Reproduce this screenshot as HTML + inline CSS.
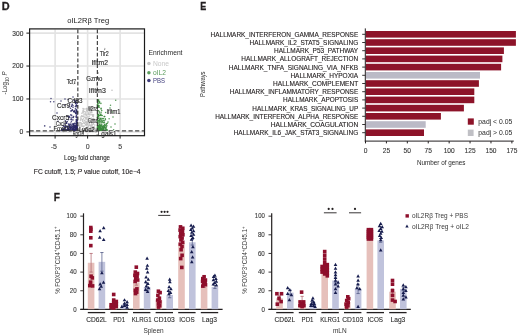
<!DOCTYPE html>
<html><head><meta charset="utf-8"><style>
html,body{margin:0;padding:0;background:#fff;}
body{width:520px;height:335px;overflow:hidden;}
svg{display:block;font-family:"Liberation Sans",sans-serif;will-change:transform;}
</style></head><body>
<svg width="520" height="335" viewBox="0 0 520 335">
<rect width="520" height="335" fill="#fff"/>
<text x="1.70" y="9.70" font-size="10.8" font-weight="bold" textLength="7.90" lengthAdjust="spacingAndGlyphs" fill="#231f20" stroke="#231f20" stroke-width="0.3">D</text>
<text x="88.20" y="23.30" font-size="8.0" text-anchor="middle" textLength="41.80" lengthAdjust="spacingAndGlyphs" fill="#222">oIL2Rβ Treg</text>
<line x1="55.10" y1="29.50" x2="55.10" y2="135.50" stroke="#e3e3e3" stroke-width="1.6"/>
<line x1="87.60" y1="29.50" x2="87.60" y2="135.50" stroke="#e3e3e3" stroke-width="1.6"/>
<line x1="120.10" y1="29.50" x2="120.10" y2="135.50" stroke="#e3e3e3" stroke-width="1.6"/>
<line x1="29.50" y1="131.90" x2="144.50" y2="131.90" stroke="#e3e3e3" stroke-width="1.6"/>
<line x1="29.50" y1="98.97" x2="144.50" y2="98.97" stroke="#e3e3e3" stroke-width="1.6"/>
<line x1="29.50" y1="66.04" x2="144.50" y2="66.04" stroke="#e3e3e3" stroke-width="1.6"/>
<line x1="29.50" y1="33.11" x2="144.50" y2="33.11" stroke="#e3e3e3" stroke-width="1.6"/>
<g>
<circle cx="79.9" cy="130.0" r="0.75" fill="#c3c3c3"/>
<circle cx="88.3" cy="131.5" r="0.75" fill="#c3c3c3"/>
<circle cx="87.2" cy="109.5" r="0.75" fill="#c3c3c3"/>
<circle cx="89.2" cy="121.3" r="0.75" fill="#c3c3c3"/>
<circle cx="86.0" cy="113.0" r="0.75" fill="#c3c3c3"/>
<circle cx="86.7" cy="122.2" r="0.75" fill="#c3c3c3"/>
<circle cx="99.1" cy="131.5" r="0.7" fill="#c3c3c3"/>
<circle cx="86.2" cy="115.7" r="0.75" fill="#c3c3c3"/>
<circle cx="90.3" cy="118.6" r="0.75" fill="#c3c3c3"/>
<circle cx="92.2" cy="131.0" r="0.75" fill="#c3c3c3"/>
<circle cx="85.9" cy="124.6" r="0.75" fill="#c3c3c3"/>
<circle cx="81.7" cy="130.1" r="0.75" fill="#c3c3c3"/>
<circle cx="91.6" cy="130.9" r="0.75" fill="#c3c3c3"/>
<circle cx="83.7" cy="109.1" r="0.75" fill="#c3c3c3"/>
<circle cx="92.8" cy="127.7" r="0.75" fill="#c3c3c3"/>
<circle cx="86.9" cy="131.0" r="0.75" fill="#c3c3c3"/>
<circle cx="91.6" cy="112.1" r="0.75" fill="#c3c3c3"/>
<circle cx="89.0" cy="131.4" r="0.75" fill="#c3c3c3"/>
<circle cx="70.4" cy="131.6" r="0.7" fill="#c3c3c3"/>
<circle cx="91.0" cy="111.8" r="0.75" fill="#c3c3c3"/>
<circle cx="91.8" cy="108.5" r="0.75" fill="#c3c3c3"/>
<circle cx="87.4" cy="119.9" r="0.75" fill="#c3c3c3"/>
<circle cx="90.7" cy="107.9" r="0.75" fill="#c3c3c3"/>
<circle cx="94.9" cy="129.1" r="0.75" fill="#c3c3c3"/>
<circle cx="83.4" cy="126.7" r="0.75" fill="#c3c3c3"/>
<circle cx="89.2" cy="123.5" r="0.75" fill="#c3c3c3"/>
<circle cx="78.8" cy="130.2" r="0.75" fill="#c3c3c3"/>
<circle cx="87.0" cy="127.2" r="0.75" fill="#c3c3c3"/>
<circle cx="81.8" cy="131.6" r="0.75" fill="#c3c3c3"/>
<circle cx="87.7" cy="119.9" r="0.75" fill="#c3c3c3"/>
<circle cx="91.4" cy="129.7" r="0.75" fill="#c3c3c3"/>
<circle cx="78.4" cy="129.5" r="0.75" fill="#c3c3c3"/>
<circle cx="85.6" cy="130.0" r="0.75" fill="#c3c3c3"/>
<circle cx="62.6" cy="131.0" r="0.7" fill="#c3c3c3"/>
<circle cx="83.1" cy="112.7" r="0.75" fill="#c3c3c3"/>
<circle cx="86.3" cy="124.8" r="0.75" fill="#c3c3c3"/>
<circle cx="112.2" cy="131.8" r="0.7" fill="#c3c3c3"/>
<circle cx="87.0" cy="111.1" r="0.75" fill="#c3c3c3"/>
<circle cx="86.0" cy="118.5" r="0.75" fill="#c3c3c3"/>
<circle cx="96.8" cy="131.4" r="0.75" fill="#c3c3c3"/>
<circle cx="78.8" cy="131.2" r="0.7" fill="#c3c3c3"/>
<circle cx="87.3" cy="110.1" r="0.75" fill="#c3c3c3"/>
<circle cx="88.2" cy="114.5" r="0.75" fill="#c3c3c3"/>
<circle cx="74.4" cy="131.0" r="0.7" fill="#c3c3c3"/>
<circle cx="94.0" cy="130.6" r="0.75" fill="#c3c3c3"/>
<circle cx="93.3" cy="131.4" r="0.75" fill="#c3c3c3"/>
<circle cx="87.6" cy="131.2" r="0.75" fill="#c3c3c3"/>
<circle cx="90.3" cy="108.6" r="0.75" fill="#c3c3c3"/>
<circle cx="79.6" cy="131.4" r="0.7" fill="#c3c3c3"/>
<circle cx="92.3" cy="124.7" r="0.75" fill="#c3c3c3"/>
<circle cx="80.4" cy="131.6" r="0.75" fill="#c3c3c3"/>
<circle cx="83.6" cy="131.4" r="0.75" fill="#c3c3c3"/>
<circle cx="87.6" cy="109.1" r="0.75" fill="#c3c3c3"/>
<circle cx="96.8" cy="130.5" r="0.75" fill="#c3c3c3"/>
<circle cx="83.6" cy="118.7" r="0.75" fill="#c3c3c3"/>
<circle cx="83.1" cy="116.4" r="0.75" fill="#c3c3c3"/>
<circle cx="85.8" cy="128.2" r="0.75" fill="#c3c3c3"/>
<circle cx="93.9" cy="122.2" r="0.75" fill="#c3c3c3"/>
<circle cx="86.5" cy="131.2" r="0.75" fill="#c3c3c3"/>
<circle cx="82.4" cy="129.2" r="0.75" fill="#c3c3c3"/>
<circle cx="86.5" cy="124.1" r="0.75" fill="#c3c3c3"/>
<circle cx="111.0" cy="131.3" r="0.7" fill="#c3c3c3"/>
<circle cx="76.4" cy="131.3" r="0.7" fill="#c3c3c3"/>
<circle cx="87.5" cy="123.0" r="0.75" fill="#c3c3c3"/>
<circle cx="63.0" cy="131.6" r="0.7" fill="#c3c3c3"/>
<circle cx="85.9" cy="122.1" r="0.75" fill="#c3c3c3"/>
<circle cx="63.6" cy="131.8" r="0.7" fill="#c3c3c3"/>
<circle cx="80.1" cy="128.2" r="0.75" fill="#c3c3c3"/>
<circle cx="89.2" cy="111.9" r="0.75" fill="#c3c3c3"/>
<circle cx="81.8" cy="115.9" r="0.75" fill="#c3c3c3"/>
<circle cx="87.1" cy="111.7" r="0.75" fill="#c3c3c3"/>
<circle cx="88.4" cy="126.7" r="0.75" fill="#c3c3c3"/>
<circle cx="91.7" cy="107.7" r="0.75" fill="#c3c3c3"/>
<circle cx="82.2" cy="130.7" r="0.75" fill="#c3c3c3"/>
<circle cx="92.5" cy="119.8" r="0.75" fill="#c3c3c3"/>
<circle cx="90.0" cy="114.7" r="0.75" fill="#c3c3c3"/>
<circle cx="91.8" cy="125.5" r="0.75" fill="#c3c3c3"/>
<circle cx="88.3" cy="113.7" r="0.75" fill="#c3c3c3"/>
<circle cx="92.0" cy="126.5" r="0.75" fill="#c3c3c3"/>
<circle cx="80.3" cy="122.6" r="0.75" fill="#c3c3c3"/>
<circle cx="88.1" cy="109.2" r="0.75" fill="#c3c3c3"/>
<circle cx="88.4" cy="119.5" r="0.75" fill="#c3c3c3"/>
<circle cx="89.4" cy="131.0" r="0.7" fill="#c3c3c3"/>
<circle cx="89.9" cy="130.6" r="0.75" fill="#c3c3c3"/>
<circle cx="70.2" cy="131.2" r="0.7" fill="#c3c3c3"/>
<circle cx="86.7" cy="131.6" r="0.75" fill="#c3c3c3"/>
<circle cx="94.3" cy="119.8" r="0.75" fill="#c3c3c3"/>
<circle cx="111.1" cy="131.8" r="0.7" fill="#c3c3c3"/>
<circle cx="89.6" cy="128.6" r="0.75" fill="#c3c3c3"/>
<circle cx="94.5" cy="129.4" r="0.75" fill="#c3c3c3"/>
<circle cx="72.4" cy="131.9" r="0.7" fill="#c3c3c3"/>
<circle cx="86.0" cy="117.5" r="0.75" fill="#c3c3c3"/>
<circle cx="79.3" cy="130.7" r="0.75" fill="#c3c3c3"/>
<circle cx="92.6" cy="127.9" r="0.75" fill="#c3c3c3"/>
<circle cx="87.6" cy="124.3" r="0.75" fill="#c3c3c3"/>
<circle cx="76.9" cy="131.4" r="0.7" fill="#c3c3c3"/>
<circle cx="90.3" cy="109.0" r="0.75" fill="#c3c3c3"/>
<circle cx="91.3" cy="119.8" r="0.75" fill="#c3c3c3"/>
<circle cx="104.9" cy="131.5" r="0.7" fill="#c3c3c3"/>
<circle cx="81.3" cy="123.7" r="0.75" fill="#c3c3c3"/>
<circle cx="84.6" cy="131.6" r="0.75" fill="#c3c3c3"/>
<circle cx="86.9" cy="131.6" r="0.75" fill="#c3c3c3"/>
<circle cx="87.5" cy="124.3" r="0.75" fill="#c3c3c3"/>
<circle cx="94.9" cy="130.5" r="0.75" fill="#c3c3c3"/>
<circle cx="80.9" cy="131.3" r="0.7" fill="#c3c3c3"/>
<circle cx="93.7" cy="118.5" r="0.75" fill="#c3c3c3"/>
<circle cx="92.1" cy="119.1" r="0.75" fill="#c3c3c3"/>
<circle cx="87.9" cy="130.4" r="0.75" fill="#c3c3c3"/>
<circle cx="69.3" cy="131.5" r="0.7" fill="#c3c3c3"/>
<circle cx="91.2" cy="130.2" r="0.75" fill="#c3c3c3"/>
<circle cx="95.3" cy="131.6" r="0.75" fill="#c3c3c3"/>
<circle cx="90.7" cy="131.4" r="0.7" fill="#c3c3c3"/>
<circle cx="96.6" cy="129.2" r="0.75" fill="#c3c3c3"/>
<circle cx="78.9" cy="130.6" r="0.75" fill="#c3c3c3"/>
<circle cx="80.8" cy="120.1" r="0.75" fill="#c3c3c3"/>
<circle cx="83.5" cy="126.6" r="0.75" fill="#c3c3c3"/>
<circle cx="91.9" cy="124.3" r="0.75" fill="#c3c3c3"/>
<circle cx="93.4" cy="123.7" r="0.75" fill="#c3c3c3"/>
<circle cx="88.6" cy="118.6" r="0.75" fill="#c3c3c3"/>
<circle cx="104.6" cy="131.2" r="0.7" fill="#c3c3c3"/>
<circle cx="81.1" cy="130.7" r="0.75" fill="#c3c3c3"/>
<circle cx="86.6" cy="110.2" r="0.75" fill="#c3c3c3"/>
<circle cx="90.1" cy="131.4" r="0.75" fill="#c3c3c3"/>
<circle cx="79.0" cy="131.4" r="0.75" fill="#c3c3c3"/>
<circle cx="92.8" cy="129.3" r="0.75" fill="#c3c3c3"/>
<circle cx="89.9" cy="122.1" r="0.75" fill="#c3c3c3"/>
<circle cx="82.6" cy="131.3" r="0.75" fill="#c3c3c3"/>
<circle cx="79.2" cy="131.3" r="0.7" fill="#c3c3c3"/>
<circle cx="81.8" cy="126.2" r="0.75" fill="#c3c3c3"/>
<circle cx="85.0" cy="117.3" r="0.75" fill="#c3c3c3"/>
<circle cx="94.9" cy="131.3" r="0.75" fill="#c3c3c3"/>
<circle cx="86.9" cy="129.9" r="0.75" fill="#c3c3c3"/>
<circle cx="92.8" cy="119.7" r="0.75" fill="#c3c3c3"/>
<circle cx="86.1" cy="123.5" r="0.75" fill="#c3c3c3"/>
<circle cx="92.3" cy="131.5" r="0.7" fill="#c3c3c3"/>
<circle cx="87.3" cy="124.0" r="0.75" fill="#c3c3c3"/>
<circle cx="78.8" cy="131.6" r="0.7" fill="#c3c3c3"/>
<circle cx="93.2" cy="118.6" r="0.75" fill="#c3c3c3"/>
<circle cx="80.5" cy="120.1" r="0.75" fill="#c3c3c3"/>
<circle cx="90.7" cy="129.4" r="0.75" fill="#c3c3c3"/>
<circle cx="91.4" cy="108.1" r="0.75" fill="#c3c3c3"/>
<circle cx="81.1" cy="119.1" r="0.75" fill="#c3c3c3"/>
<circle cx="95.0" cy="130.1" r="0.75" fill="#c3c3c3"/>
<circle cx="81.6" cy="124.9" r="0.75" fill="#c3c3c3"/>
<circle cx="85.5" cy="124.8" r="0.75" fill="#c3c3c3"/>
<circle cx="104.2" cy="131.4" r="0.7" fill="#c3c3c3"/>
<circle cx="81.6" cy="123.8" r="0.75" fill="#c3c3c3"/>
<circle cx="91.4" cy="118.3" r="0.75" fill="#c3c3c3"/>
<circle cx="83.2" cy="110.0" r="0.75" fill="#c3c3c3"/>
<circle cx="79.3" cy="131.0" r="0.7" fill="#c3c3c3"/>
<circle cx="81.0" cy="118.2" r="0.75" fill="#c3c3c3"/>
<circle cx="97.5" cy="59.0" r="0.8" fill="#c3c3c3"/>
<circle cx="80.4" cy="127.3" r="0.75" fill="#c3c3c3"/>
<circle cx="91.8" cy="130.7" r="0.75" fill="#c3c3c3"/>
<circle cx="89.8" cy="114.7" r="0.75" fill="#c3c3c3"/>
<circle cx="106.5" cy="131.5" r="0.7" fill="#c3c3c3"/>
<circle cx="79.5" cy="122.9" r="0.75" fill="#c3c3c3"/>
<circle cx="91.8" cy="131.3" r="0.75" fill="#c3c3c3"/>
<circle cx="84.9" cy="130.9" r="0.75" fill="#c3c3c3"/>
<circle cx="92.6" cy="127.4" r="0.75" fill="#c3c3c3"/>
<circle cx="85.9" cy="131.3" r="0.75" fill="#c3c3c3"/>
<circle cx="95.9" cy="131.9" r="0.7" fill="#c3c3c3"/>
<circle cx="92.4" cy="114.5" r="0.75" fill="#c3c3c3"/>
<circle cx="86.1" cy="117.5" r="0.75" fill="#c3c3c3"/>
<circle cx="88.9" cy="125.4" r="0.75" fill="#c3c3c3"/>
<circle cx="94.6" cy="128.0" r="0.75" fill="#c3c3c3"/>
<circle cx="91.3" cy="107.7" r="0.75" fill="#c3c3c3"/>
<circle cx="86.1" cy="130.7" r="0.75" fill="#c3c3c3"/>
<circle cx="79.9" cy="124.9" r="0.75" fill="#c3c3c3"/>
<circle cx="97.7" cy="131.2" r="0.7" fill="#c3c3c3"/>
<circle cx="95.2" cy="131.5" r="0.75" fill="#c3c3c3"/>
<circle cx="105.0" cy="131.3" r="0.7" fill="#c3c3c3"/>
<circle cx="84.1" cy="114.0" r="0.75" fill="#c3c3c3"/>
<circle cx="88.6" cy="128.2" r="0.75" fill="#c3c3c3"/>
<circle cx="103.0" cy="131.0" r="0.7" fill="#c3c3c3"/>
<circle cx="90.0" cy="131.6" r="0.75" fill="#c3c3c3"/>
<circle cx="78.5" cy="131.1" r="0.75" fill="#c3c3c3"/>
<circle cx="91.2" cy="125.2" r="0.75" fill="#c3c3c3"/>
<circle cx="87.8" cy="121.8" r="0.75" fill="#c3c3c3"/>
<circle cx="78.8" cy="131.1" r="0.75" fill="#c3c3c3"/>
<circle cx="81.2" cy="129.8" r="0.75" fill="#c3c3c3"/>
<circle cx="89.2" cy="114.1" r="0.75" fill="#c3c3c3"/>
<circle cx="89.3" cy="130.2" r="0.75" fill="#c3c3c3"/>
<circle cx="109.1" cy="131.2" r="0.7" fill="#c3c3c3"/>
<circle cx="90.4" cy="126.9" r="0.75" fill="#c3c3c3"/>
<circle cx="82.8" cy="130.5" r="0.75" fill="#c3c3c3"/>
<circle cx="95.2" cy="129.2" r="0.75" fill="#c3c3c3"/>
<circle cx="100.0" cy="131.6" r="0.7" fill="#c3c3c3"/>
<circle cx="90.6" cy="125.5" r="0.75" fill="#c3c3c3"/>
<circle cx="91.5" cy="122.5" r="0.75" fill="#c3c3c3"/>
<circle cx="86.5" cy="108.5" r="0.75" fill="#c3c3c3"/>
<circle cx="79.8" cy="122.8" r="0.75" fill="#c3c3c3"/>
<circle cx="96.3" cy="131.6" r="0.75" fill="#c3c3c3"/>
<circle cx="88.6" cy="107.6" r="0.75" fill="#c3c3c3"/>
<circle cx="85.8" cy="118.9" r="0.75" fill="#c3c3c3"/>
<circle cx="80.7" cy="131.1" r="0.75" fill="#c3c3c3"/>
<circle cx="89.9" cy="131.5" r="0.75" fill="#c3c3c3"/>
<circle cx="89.9" cy="131.5" r="0.7" fill="#c3c3c3"/>
<circle cx="85.5" cy="114.0" r="0.75" fill="#c3c3c3"/>
<circle cx="83.4" cy="111.1" r="0.75" fill="#c3c3c3"/>
<circle cx="89.6" cy="130.7" r="0.75" fill="#c3c3c3"/>
<circle cx="80.8" cy="130.8" r="0.75" fill="#c3c3c3"/>
<circle cx="101.7" cy="131.1" r="0.7" fill="#c3c3c3"/>
<circle cx="92.0" cy="122.1" r="0.75" fill="#c3c3c3"/>
<circle cx="89.4" cy="121.8" r="0.75" fill="#c3c3c3"/>
<circle cx="87.3" cy="130.9" r="0.75" fill="#c3c3c3"/>
<circle cx="91.6" cy="123.0" r="0.75" fill="#c3c3c3"/>
<circle cx="86.1" cy="131.2" r="0.75" fill="#c3c3c3"/>
<circle cx="86.2" cy="125.2" r="0.75" fill="#c3c3c3"/>
<circle cx="62.7" cy="131.2" r="0.7" fill="#c3c3c3"/>
<circle cx="91.6" cy="129.6" r="0.75" fill="#c3c3c3"/>
<circle cx="84.0" cy="123.1" r="0.75" fill="#c3c3c3"/>
<circle cx="82.6" cy="131.2" r="0.7" fill="#c3c3c3"/>
<circle cx="86.6" cy="128.3" r="0.75" fill="#c3c3c3"/>
<circle cx="93.6" cy="129.2" r="0.75" fill="#c3c3c3"/>
<circle cx="90.8" cy="128.6" r="0.75" fill="#c3c3c3"/>
<circle cx="83.5" cy="128.4" r="0.75" fill="#c3c3c3"/>
<circle cx="82.7" cy="126.0" r="0.75" fill="#c3c3c3"/>
<circle cx="89.8" cy="110.7" r="0.75" fill="#c3c3c3"/>
<circle cx="91.6" cy="130.2" r="0.75" fill="#c3c3c3"/>
<circle cx="111.3" cy="131.8" r="0.7" fill="#c3c3c3"/>
<circle cx="94.1" cy="119.5" r="0.75" fill="#c3c3c3"/>
<circle cx="78.6" cy="131.3" r="0.75" fill="#c3c3c3"/>
<circle cx="60.3" cy="131.0" r="0.7" fill="#c3c3c3"/>
<circle cx="79.5" cy="129.5" r="0.75" fill="#c3c3c3"/>
<circle cx="73.7" cy="131.3" r="0.7" fill="#c3c3c3"/>
<circle cx="84.2" cy="117.1" r="0.75" fill="#c3c3c3"/>
<circle cx="92.7" cy="128.9" r="0.75" fill="#c3c3c3"/>
<circle cx="79.3" cy="125.9" r="0.75" fill="#c3c3c3"/>
<circle cx="79.1" cy="125.3" r="0.75" fill="#c3c3c3"/>
<circle cx="78.2" cy="131.0" r="0.75" fill="#c3c3c3"/>
<circle cx="78.4" cy="131.5" r="0.75" fill="#c3c3c3"/>
<circle cx="87.6" cy="109.0" r="0.75" fill="#c3c3c3"/>
<circle cx="82.8" cy="121.4" r="0.75" fill="#c3c3c3"/>
<circle cx="81.6" cy="115.9" r="0.75" fill="#c3c3c3"/>
<circle cx="82.8" cy="111.9" r="0.75" fill="#c3c3c3"/>
<circle cx="90.4" cy="129.0" r="0.75" fill="#c3c3c3"/>
<circle cx="81.8" cy="130.8" r="0.75" fill="#c3c3c3"/>
<circle cx="81.6" cy="130.1" r="0.75" fill="#c3c3c3"/>
<circle cx="88.5" cy="121.2" r="0.75" fill="#c3c3c3"/>
<circle cx="84.9" cy="121.0" r="0.75" fill="#c3c3c3"/>
<circle cx="97.7" cy="131.5" r="0.7" fill="#c3c3c3"/>
<circle cx="62.3" cy="131.0" r="0.7" fill="#c3c3c3"/>
<circle cx="91.8" cy="112.3" r="0.75" fill="#c3c3c3"/>
<circle cx="83.0" cy="131.6" r="0.75" fill="#c3c3c3"/>
<circle cx="84.0" cy="115.1" r="0.75" fill="#c3c3c3"/>
<circle cx="94.2" cy="131.0" r="0.7" fill="#c3c3c3"/>
<circle cx="93.4" cy="126.9" r="0.75" fill="#c3c3c3"/>
<circle cx="84.4" cy="123.4" r="0.75" fill="#c3c3c3"/>
<circle cx="90.8" cy="109.6" r="0.75" fill="#c3c3c3"/>
<circle cx="81.9" cy="113.3" r="0.75" fill="#c3c3c3"/>
<circle cx="81.6" cy="131.5" r="0.75" fill="#c3c3c3"/>
<circle cx="85.2" cy="129.3" r="0.75" fill="#c3c3c3"/>
<circle cx="87.6" cy="130.8" r="0.75" fill="#c3c3c3"/>
<circle cx="93.0" cy="116.5" r="0.75" fill="#c3c3c3"/>
<circle cx="89.3" cy="131.6" r="0.75" fill="#c3c3c3"/>
<circle cx="87.0" cy="110.2" r="0.75" fill="#c3c3c3"/>
<circle cx="93.6" cy="114.7" r="0.75" fill="#c3c3c3"/>
<circle cx="84.2" cy="111.4" r="0.75" fill="#c3c3c3"/>
<circle cx="88.6" cy="112.9" r="0.75" fill="#c3c3c3"/>
<circle cx="87.3" cy="131.2" r="0.75" fill="#c3c3c3"/>
<circle cx="90.9" cy="112.5" r="0.75" fill="#c3c3c3"/>
<circle cx="79.4" cy="129.6" r="0.75" fill="#c3c3c3"/>
<circle cx="86.8" cy="129.0" r="0.75" fill="#c3c3c3"/>
<circle cx="93.4" cy="130.0" r="0.75" fill="#c3c3c3"/>
<circle cx="82.5" cy="123.7" r="0.75" fill="#c3c3c3"/>
<circle cx="88.8" cy="108.5" r="0.75" fill="#c3c3c3"/>
<circle cx="83.0" cy="116.2" r="0.75" fill="#c3c3c3"/>
<circle cx="86.0" cy="114.4" r="0.75" fill="#c3c3c3"/>
<circle cx="84.2" cy="131.4" r="0.75" fill="#c3c3c3"/>
<circle cx="90.2" cy="125.6" r="0.75" fill="#c3c3c3"/>
<circle cx="94.1" cy="122.5" r="0.75" fill="#c3c3c3"/>
<circle cx="112.0" cy="90.3" r="0.8" fill="#c3c3c3"/>
<circle cx="81.2" cy="130.6" r="0.75" fill="#c3c3c3"/>
<circle cx="59.3" cy="131.4" r="0.7" fill="#c3c3c3"/>
<circle cx="104.8" cy="48.6" r="0.8" fill="#c3c3c3"/>
<circle cx="82.7" cy="119.4" r="0.75" fill="#c3c3c3"/>
<circle cx="95.8" cy="130.3" r="0.75" fill="#c3c3c3"/>
<circle cx="82.5" cy="130.7" r="0.75" fill="#c3c3c3"/>
<circle cx="89.1" cy="116.8" r="0.75" fill="#c3c3c3"/>
<circle cx="88.3" cy="121.3" r="0.75" fill="#c3c3c3"/>
<circle cx="81.2" cy="122.9" r="0.75" fill="#c3c3c3"/>
<circle cx="82.2" cy="131.5" r="0.75" fill="#c3c3c3"/>
<circle cx="96.1" cy="131.5" r="0.75" fill="#c3c3c3"/>
<circle cx="91.9" cy="118.4" r="0.75" fill="#c3c3c3"/>
<circle cx="86.5" cy="130.8" r="0.75" fill="#c3c3c3"/>
<circle cx="91.4" cy="126.0" r="0.75" fill="#c3c3c3"/>
<circle cx="83.2" cy="126.6" r="0.75" fill="#c3c3c3"/>
<circle cx="81.0" cy="124.9" r="0.75" fill="#c3c3c3"/>
<circle cx="95.1" cy="130.0" r="0.75" fill="#c3c3c3"/>
<circle cx="92.2" cy="131.4" r="0.75" fill="#c3c3c3"/>
<circle cx="79.1" cy="126.6" r="0.75" fill="#c3c3c3"/>
<circle cx="84.5" cy="129.8" r="0.75" fill="#c3c3c3"/>
<circle cx="89.1" cy="124.9" r="0.75" fill="#c3c3c3"/>
<circle cx="90.8" cy="121.7" r="0.75" fill="#c3c3c3"/>
<circle cx="85.3" cy="112.0" r="0.75" fill="#c3c3c3"/>
<circle cx="102.6" cy="131.1" r="0.7" fill="#c3c3c3"/>
<circle cx="86.4" cy="115.0" r="0.75" fill="#c3c3c3"/>
<circle cx="79.7" cy="126.8" r="0.75" fill="#c3c3c3"/>
<circle cx="91.7" cy="108.4" r="0.75" fill="#c3c3c3"/>
<circle cx="101.2" cy="131.7" r="0.7" fill="#c3c3c3"/>
<circle cx="88.6" cy="107.8" r="0.75" fill="#c3c3c3"/>
<circle cx="87.3" cy="122.2" r="0.75" fill="#c3c3c3"/>
<circle cx="85.0" cy="108.9" r="0.75" fill="#c3c3c3"/>
<circle cx="82.8" cy="120.4" r="0.75" fill="#c3c3c3"/>
<circle cx="85.4" cy="130.5" r="0.75" fill="#c3c3c3"/>
<circle cx="87.5" cy="124.7" r="0.75" fill="#c3c3c3"/>
<circle cx="93.5" cy="116.0" r="0.75" fill="#c3c3c3"/>
<circle cx="92.7" cy="115.6" r="0.75" fill="#c3c3c3"/>
<circle cx="93.7" cy="120.4" r="0.75" fill="#c3c3c3"/>
<circle cx="81.7" cy="131.6" r="0.75" fill="#c3c3c3"/>
<circle cx="94.8" cy="125.0" r="0.75" fill="#c3c3c3"/>
<circle cx="101.3" cy="131.8" r="0.7" fill="#c3c3c3"/>
<circle cx="68.2" cy="131.7" r="0.7" fill="#c3c3c3"/>
<circle cx="89.8" cy="125.1" r="0.75" fill="#c3c3c3"/>
<circle cx="88.8" cy="114.2" r="0.75" fill="#c3c3c3"/>
<circle cx="82.8" cy="131.3" r="0.7" fill="#c3c3c3"/>
<circle cx="82.3" cy="116.6" r="0.75" fill="#c3c3c3"/>
<circle cx="85.5" cy="122.2" r="0.75" fill="#c3c3c3"/>
<circle cx="89.9" cy="109.3" r="0.75" fill="#c3c3c3"/>
<circle cx="84.2" cy="126.1" r="0.75" fill="#c3c3c3"/>
<circle cx="87.0" cy="108.5" r="0.75" fill="#c3c3c3"/>
<circle cx="87.8" cy="117.1" r="0.75" fill="#c3c3c3"/>
<circle cx="83.1" cy="111.0" r="0.75" fill="#c3c3c3"/>
<circle cx="90.1" cy="131.2" r="0.75" fill="#c3c3c3"/>
<circle cx="72.4" cy="131.3" r="0.7" fill="#c3c3c3"/>
<circle cx="78.3" cy="130.0" r="0.75" fill="#c3c3c3"/>
<circle cx="91.6" cy="109.6" r="0.75" fill="#c3c3c3"/>
<circle cx="86.3" cy="131.4" r="0.75" fill="#c3c3c3"/>
<circle cx="83.9" cy="122.5" r="0.75" fill="#c3c3c3"/>
<circle cx="95.9" cy="130.7" r="0.75" fill="#c3c3c3"/>
<circle cx="94.5" cy="128.5" r="0.75" fill="#c3c3c3"/>
<circle cx="86.8" cy="128.8" r="0.75" fill="#c3c3c3"/>
<circle cx="92.9" cy="116.0" r="0.75" fill="#c3c3c3"/>
<circle cx="88.7" cy="120.1" r="0.75" fill="#c3c3c3"/>
<circle cx="91.4" cy="120.0" r="0.75" fill="#c3c3c3"/>
<circle cx="86.9" cy="119.1" r="0.75" fill="#c3c3c3"/>
<circle cx="87.9" cy="121.8" r="0.75" fill="#c3c3c3"/>
<circle cx="93.4" cy="126.9" r="0.75" fill="#c3c3c3"/>
<circle cx="90.7" cy="127.7" r="0.75" fill="#c3c3c3"/>
<circle cx="83.0" cy="108.5" r="0.75" fill="#c3c3c3"/>
<circle cx="83.1" cy="130.5" r="0.75" fill="#c3c3c3"/>
<circle cx="80.8" cy="117.0" r="0.75" fill="#c3c3c3"/>
<circle cx="93.3" cy="124.1" r="0.75" fill="#c3c3c3"/>
<circle cx="95.7" cy="131.6" r="0.75" fill="#c3c3c3"/>
<circle cx="91.2" cy="122.5" r="0.75" fill="#c3c3c3"/>
<circle cx="94.3" cy="126.9" r="0.75" fill="#c3c3c3"/>
<circle cx="85.8" cy="130.5" r="0.75" fill="#c3c3c3"/>
<circle cx="90.9" cy="113.0" r="0.75" fill="#c3c3c3"/>
<circle cx="84.7" cy="120.3" r="0.75" fill="#c3c3c3"/>
<circle cx="90.2" cy="108.4" r="0.75" fill="#c3c3c3"/>
<circle cx="91.8" cy="114.8" r="0.75" fill="#c3c3c3"/>
<circle cx="86.6" cy="122.1" r="0.75" fill="#c3c3c3"/>
<circle cx="71.0" cy="119.4" r="0.8" fill="#2a2865" fill-opacity="0.85"/>
<circle cx="101.1" cy="108.4" r="0.8" fill="#3a8a3c" fill-opacity="0.85"/>
<circle cx="106.5" cy="126.7" r="0.8" fill="#3a8a3c" fill-opacity="0.85"/>
<circle cx="75.3" cy="127.2" r="0.8" fill="#2a2865" fill-opacity="0.85"/>
<circle cx="99.5" cy="128.6" r="0.8" fill="#3a8a3c" fill-opacity="0.85"/>
<circle cx="75.2" cy="127.7" r="0.8" fill="#2a2865" fill-opacity="0.85"/>
<circle cx="76.3" cy="124.7" r="0.8" fill="#2a2865" fill-opacity="0.85"/>
<circle cx="102.6" cy="129.5" r="0.8" fill="#3a8a3c" fill-opacity="0.85"/>
<circle cx="76.3" cy="105.8" r="0.8" fill="#2a2865" fill-opacity="0.85"/>
<circle cx="75.5" cy="126.4" r="0.8" fill="#2a2865" fill-opacity="0.85"/>
<circle cx="76.6" cy="120.3" r="0.8" fill="#2a2865" fill-opacity="0.85"/>
<circle cx="68.1" cy="99.5" r="0.75" fill="#2a2865" fill-opacity="0.85"/>
<circle cx="99.8" cy="119.8" r="0.8" fill="#3a8a3c" fill-opacity="0.85"/>
<circle cx="97.6" cy="126.1" r="0.8" fill="#3a8a3c" fill-opacity="0.85"/>
<circle cx="106.8" cy="125.6" r="0.8" fill="#3a8a3c" fill-opacity="0.85"/>
<circle cx="76.3" cy="110.6" r="0.75" fill="#2a2865" fill-opacity="0.85"/>
<circle cx="66.6" cy="122.7" r="0.8" fill="#2a2865" fill-opacity="0.85"/>
<circle cx="106.5" cy="123.8" r="0.8" fill="#3a8a3c" fill-opacity="0.85"/>
<circle cx="98.2" cy="129.7" r="0.8" fill="#3a8a3c" fill-opacity="0.85"/>
<circle cx="104.4" cy="122.3" r="0.8" fill="#3a8a3c" fill-opacity="0.85"/>
<circle cx="99.5" cy="127.2" r="0.8" fill="#3a8a3c" fill-opacity="0.85"/>
<circle cx="101.1" cy="112.2" r="0.8" fill="#3a8a3c" fill-opacity="0.85"/>
<circle cx="97.9" cy="121.2" r="0.8" fill="#3a8a3c" fill-opacity="0.85"/>
<circle cx="76.2" cy="121.6" r="0.8" fill="#2a2865" fill-opacity="0.85"/>
<circle cx="71.4" cy="121.3" r="0.8" fill="#2a2865" fill-opacity="0.85"/>
<circle cx="72.9" cy="128.0" r="0.8" fill="#2a2865" fill-opacity="0.85"/>
<circle cx="98.7" cy="115.6" r="0.8" fill="#3a8a3c" fill-opacity="0.85"/>
<circle cx="105.7" cy="129.7" r="0.8" fill="#3a8a3c" fill-opacity="0.85"/>
<circle cx="101.0" cy="130.3" r="0.8" fill="#3a8a3c" fill-opacity="0.85"/>
<circle cx="64.5" cy="105.0" r="0.75" fill="#2a2865" fill-opacity="0.85"/>
<circle cx="104.6" cy="127.1" r="0.8" fill="#3a8a3c" fill-opacity="0.85"/>
<circle cx="76.3" cy="129.1" r="0.8" fill="#2a2865" fill-opacity="0.85"/>
<circle cx="76.0" cy="113.0" r="0.8" fill="#2a2865" fill-opacity="0.85"/>
<circle cx="99.6" cy="113.0" r="0.8" fill="#3a8a3c" fill-opacity="0.85"/>
<circle cx="76.9" cy="126.0" r="0.8" fill="#2a2865" fill-opacity="0.85"/>
<circle cx="101.1" cy="119.2" r="0.8" fill="#3a8a3c" fill-opacity="0.85"/>
<circle cx="76.2" cy="129.6" r="0.8" fill="#2a2865" fill-opacity="0.85"/>
<circle cx="70.8" cy="128.5" r="0.8" fill="#2a2865" fill-opacity="0.85"/>
<circle cx="67.7" cy="129.6" r="0.8" fill="#2a2865" fill-opacity="0.85"/>
<circle cx="77.2" cy="127.4" r="0.8" fill="#2a2865" fill-opacity="0.85"/>
<circle cx="97.5" cy="104.8" r="0.8" fill="#3a8a3c" fill-opacity="0.85"/>
<circle cx="57.0" cy="113.0" r="0.8" fill="#2a2865" fill-opacity="0.85"/>
<circle cx="74.2" cy="125.8" r="0.8" fill="#2a2865" fill-opacity="0.85"/>
<circle cx="77.0" cy="111.3" r="0.8" fill="#2a2865" fill-opacity="0.85"/>
<circle cx="76.9" cy="111.5" r="0.8" fill="#2a2865" fill-opacity="0.85"/>
<circle cx="63.6" cy="130.2" r="0.8" fill="#2a2865" fill-opacity="0.85"/>
<circle cx="99.5" cy="127.0" r="0.8" fill="#3a8a3c" fill-opacity="0.85"/>
<circle cx="97.8" cy="105.1" r="0.75" fill="#3a8a3c" fill-opacity="0.85"/>
<circle cx="74.1" cy="127.1" r="0.8" fill="#2a2865" fill-opacity="0.85"/>
<circle cx="77.3" cy="127.3" r="0.8" fill="#2a2865" fill-opacity="0.85"/>
<circle cx="66.5" cy="123.3" r="0.8" fill="#2a2865" fill-opacity="0.85"/>
<circle cx="75.8" cy="128.9" r="0.8" fill="#2a2865" fill-opacity="0.85"/>
<circle cx="99.6" cy="129.9" r="0.8" fill="#3a8a3c" fill-opacity="0.85"/>
<circle cx="97.9" cy="128.0" r="0.8" fill="#3a8a3c" fill-opacity="0.85"/>
<circle cx="76.9" cy="123.2" r="0.8" fill="#2a2865" fill-opacity="0.85"/>
<circle cx="75.7" cy="113.6" r="0.8" fill="#2a2865" fill-opacity="0.85"/>
<circle cx="72.9" cy="119.9" r="0.8" fill="#2a2865" fill-opacity="0.85"/>
<circle cx="65.0" cy="123.9" r="0.8" fill="#2a2865" fill-opacity="0.85"/>
<circle cx="76.2" cy="125.9" r="0.8" fill="#2a2865" fill-opacity="0.85"/>
<circle cx="73.2" cy="126.5" r="0.8" fill="#2a2865" fill-opacity="0.85"/>
<circle cx="65.7" cy="127.5" r="0.8" fill="#2a2865" fill-opacity="0.85"/>
<circle cx="110.0" cy="108.0" r="0.8" fill="#3a8a3c" fill-opacity="0.85"/>
<circle cx="105.4" cy="119.8" r="0.8" fill="#3a8a3c" fill-opacity="0.85"/>
<circle cx="99.7" cy="130.3" r="0.8" fill="#3a8a3c" fill-opacity="0.85"/>
<circle cx="72.8" cy="129.4" r="0.8" fill="#2a2865" fill-opacity="0.85"/>
<circle cx="70.6" cy="127.7" r="0.8" fill="#2a2865" fill-opacity="0.85"/>
<circle cx="99.1" cy="118.0" r="0.8" fill="#3a8a3c" fill-opacity="0.85"/>
<circle cx="104.2" cy="130.3" r="0.8" fill="#3a8a3c" fill-opacity="0.85"/>
<circle cx="66.3" cy="122.1" r="0.75" fill="#2a2865" fill-opacity="0.85"/>
<circle cx="61.0" cy="101.0" r="0.8" fill="#2a2865" fill-opacity="0.85"/>
<circle cx="104.1" cy="120.7" r="0.8" fill="#3a8a3c" fill-opacity="0.85"/>
<circle cx="103.9" cy="122.8" r="0.8" fill="#3a8a3c" fill-opacity="0.85"/>
<circle cx="77.2" cy="117.4" r="0.8" fill="#2a2865" fill-opacity="0.85"/>
<circle cx="97.9" cy="118.6" r="0.8" fill="#3a8a3c" fill-opacity="0.85"/>
<circle cx="66.7" cy="126.5" r="0.8" fill="#2a2865" fill-opacity="0.85"/>
<circle cx="107.3" cy="130.2" r="0.8" fill="#3a8a3c" fill-opacity="0.85"/>
<circle cx="97.8" cy="121.2" r="0.8" fill="#3a8a3c" fill-opacity="0.85"/>
<circle cx="98.5" cy="128.7" r="0.8" fill="#3a8a3c" fill-opacity="0.85"/>
<circle cx="65.3" cy="120.8" r="0.8" fill="#2a2865" fill-opacity="0.85"/>
<circle cx="101.0" cy="128.4" r="0.8" fill="#3a8a3c" fill-opacity="0.85"/>
<circle cx="76.8" cy="130.4" r="0.8" fill="#2a2865" fill-opacity="0.85"/>
<circle cx="77.1" cy="130.1" r="0.8" fill="#2a2865" fill-opacity="0.85"/>
<circle cx="44.7" cy="125.9" r="0.8" fill="#2a2865" fill-opacity="0.85"/>
<circle cx="102.6" cy="129.6" r="0.8" fill="#3a8a3c" fill-opacity="0.85"/>
<circle cx="76.3" cy="130.4" r="0.8" fill="#2a2865" fill-opacity="0.85"/>
<circle cx="99.1" cy="115.7" r="0.8" fill="#3a8a3c" fill-opacity="0.85"/>
<circle cx="106.5" cy="129.7" r="0.8" fill="#3a8a3c" fill-opacity="0.85"/>
<circle cx="67.4" cy="129.2" r="0.8" fill="#2a2865" fill-opacity="0.85"/>
<circle cx="70.8" cy="114.9" r="0.8" fill="#2a2865" fill-opacity="0.85"/>
<circle cx="69.7" cy="104.1" r="0.75" fill="#2a2865" fill-opacity="0.85"/>
<circle cx="67.5" cy="126.4" r="0.8" fill="#2a2865" fill-opacity="0.85"/>
<circle cx="100.5" cy="118.5" r="0.8" fill="#3a8a3c" fill-opacity="0.85"/>
<circle cx="77.3" cy="128.8" r="0.8" fill="#2a2865" fill-opacity="0.85"/>
<circle cx="65.3" cy="126.1" r="0.8" fill="#2a2865" fill-opacity="0.85"/>
<circle cx="98.6" cy="106.0" r="0.8" fill="#3a8a3c" fill-opacity="0.85"/>
<circle cx="105.8" cy="128.0" r="0.8" fill="#3a8a3c" fill-opacity="0.85"/>
<circle cx="102.8" cy="126.7" r="0.8" fill="#3a8a3c" fill-opacity="0.85"/>
<circle cx="58.0" cy="121.2" r="0.75" fill="#2a2865" fill-opacity="0.85"/>
<circle cx="103.3" cy="128.3" r="0.8" fill="#3a8a3c" fill-opacity="0.85"/>
<circle cx="100.9" cy="103.4" r="0.8" fill="#3a8a3c" fill-opacity="0.85"/>
<circle cx="67.6" cy="127.8" r="0.8" fill="#2a2865" fill-opacity="0.85"/>
<circle cx="115.0" cy="124.0" r="0.8" fill="#3a8a3c" fill-opacity="0.85"/>
<circle cx="98.2" cy="114.5" r="0.8" fill="#3a8a3c" fill-opacity="0.85"/>
<circle cx="99.2" cy="111.9" r="0.8" fill="#3a8a3c" fill-opacity="0.85"/>
<circle cx="97.7" cy="128.6" r="0.8" fill="#3a8a3c" fill-opacity="0.85"/>
<circle cx="75.5" cy="102.0" r="0.8" fill="#2a2865" fill-opacity="0.85"/>
<circle cx="97.5" cy="127.2" r="0.8" fill="#3a8a3c" fill-opacity="0.85"/>
<circle cx="74.2" cy="111.6" r="0.8" fill="#2a2865" fill-opacity="0.85"/>
<circle cx="97.8" cy="120.5" r="0.8" fill="#3a8a3c" fill-opacity="0.85"/>
<circle cx="99.8" cy="127.7" r="0.8" fill="#3a8a3c" fill-opacity="0.85"/>
<circle cx="69.2" cy="124.7" r="0.8" fill="#2a2865" fill-opacity="0.85"/>
<circle cx="97.8" cy="103.4" r="0.8" fill="#3a8a3c" fill-opacity="0.85"/>
<circle cx="97.5" cy="106.9" r="0.8" fill="#3a8a3c" fill-opacity="0.85"/>
<circle cx="97.8" cy="107.3" r="0.8" fill="#3a8a3c" fill-opacity="0.85"/>
<circle cx="98.5" cy="127.1" r="0.8" fill="#3a8a3c" fill-opacity="0.85"/>
<circle cx="74.9" cy="129.0" r="0.8" fill="#2a2865" fill-opacity="0.85"/>
<circle cx="71.3" cy="127.7" r="0.8" fill="#2a2865" fill-opacity="0.85"/>
<circle cx="70.0" cy="127.5" r="0.8" fill="#2a2865" fill-opacity="0.85"/>
<circle cx="69.0" cy="106.8" r="0.75" fill="#2a2865" fill-opacity="0.85"/>
<circle cx="76.0" cy="127.2" r="0.8" fill="#2a2865" fill-opacity="0.85"/>
<circle cx="99.2" cy="127.8" r="0.8" fill="#3a8a3c" fill-opacity="0.85"/>
<circle cx="75.5" cy="130.4" r="0.8" fill="#2a2865" fill-opacity="0.85"/>
<circle cx="101.6" cy="126.3" r="0.8" fill="#3a8a3c" fill-opacity="0.85"/>
<circle cx="72.4" cy="129.5" r="0.8" fill="#2a2865" fill-opacity="0.85"/>
<circle cx="74.2" cy="112.0" r="0.8" fill="#2a2865" fill-opacity="0.85"/>
<circle cx="98.1" cy="116.5" r="0.8" fill="#3a8a3c" fill-opacity="0.85"/>
<circle cx="76.5" cy="128.8" r="0.8" fill="#2a2865" fill-opacity="0.85"/>
<circle cx="76.7" cy="129.5" r="0.8" fill="#2a2865" fill-opacity="0.85"/>
<circle cx="104.3" cy="126.9" r="0.8" fill="#3a8a3c" fill-opacity="0.85"/>
<circle cx="98.5" cy="100.6" r="0.8" fill="#3a8a3c" fill-opacity="0.85"/>
<circle cx="69.7" cy="126.4" r="0.8" fill="#2a2865" fill-opacity="0.85"/>
<circle cx="106.4" cy="124.3" r="0.75" fill="#3a8a3c" fill-opacity="0.85"/>
<circle cx="97.7" cy="110.6" r="0.8" fill="#3a8a3c" fill-opacity="0.85"/>
<circle cx="76.3" cy="105.4" r="0.8" fill="#2a2865" fill-opacity="0.85"/>
<circle cx="98.1" cy="114.5" r="0.8" fill="#3a8a3c" fill-opacity="0.85"/>
<circle cx="73.5" cy="128.3" r="0.8" fill="#2a2865" fill-opacity="0.85"/>
<circle cx="101.7" cy="128.2" r="0.75" fill="#3a8a3c" fill-opacity="0.85"/>
<circle cx="98.5" cy="114.5" r="0.8" fill="#3a8a3c" fill-opacity="0.85"/>
<circle cx="103.3" cy="118.6" r="0.8" fill="#3a8a3c" fill-opacity="0.85"/>
<circle cx="62.8" cy="130.4" r="0.8" fill="#2a2865" fill-opacity="0.85"/>
<circle cx="98.0" cy="127.1" r="0.8" fill="#3a8a3c" fill-opacity="0.85"/>
<circle cx="98.0" cy="105.7" r="0.8" fill="#3a8a3c" fill-opacity="0.85"/>
<circle cx="76.5" cy="130.3" r="0.8" fill="#2a2865" fill-opacity="0.85"/>
<circle cx="100.4" cy="130.0" r="0.8" fill="#3a8a3c" fill-opacity="0.85"/>
<circle cx="105.4" cy="125.6" r="0.8" fill="#3a8a3c" fill-opacity="0.85"/>
<circle cx="100.6" cy="114.9" r="0.8" fill="#3a8a3c" fill-opacity="0.85"/>
<circle cx="97.5" cy="115.2" r="0.8" fill="#3a8a3c" fill-opacity="0.85"/>
<circle cx="72.1" cy="129.6" r="0.8" fill="#2a2865" fill-opacity="0.85"/>
<circle cx="77.1" cy="107.0" r="0.8" fill="#2a2865" fill-opacity="0.85"/>
<circle cx="101.8" cy="125.2" r="0.8" fill="#3a8a3c" fill-opacity="0.85"/>
<circle cx="74.8" cy="130.3" r="0.8" fill="#2a2865" fill-opacity="0.85"/>
<circle cx="75.7" cy="112.9" r="0.8" fill="#2a2865" fill-opacity="0.85"/>
<circle cx="77.1" cy="130.4" r="0.8" fill="#2a2865" fill-opacity="0.85"/>
<circle cx="76.6" cy="120.0" r="0.8" fill="#2a2865" fill-opacity="0.85"/>
<circle cx="98.0" cy="100.6" r="0.8" fill="#3a8a3c" fill-opacity="0.85"/>
<circle cx="69.5" cy="130.4" r="0.8" fill="#2a2865" fill-opacity="0.85"/>
<circle cx="97.9" cy="129.8" r="0.8" fill="#3a8a3c" fill-opacity="0.85"/>
<circle cx="76.8" cy="121.2" r="0.8" fill="#2a2865" fill-opacity="0.85"/>
<circle cx="102.0" cy="122.8" r="0.8" fill="#3a8a3c" fill-opacity="0.85"/>
<circle cx="66.4" cy="130.4" r="0.8" fill="#2a2865" fill-opacity="0.85"/>
<circle cx="68.1" cy="129.2" r="0.8" fill="#2a2865" fill-opacity="0.85"/>
<circle cx="75.4" cy="127.5" r="0.8" fill="#2a2865" fill-opacity="0.85"/>
<circle cx="98.2" cy="116.5" r="0.75" fill="#3a8a3c" fill-opacity="0.85"/>
<circle cx="75.7" cy="128.0" r="0.8" fill="#2a2865" fill-opacity="0.85"/>
<circle cx="102.9" cy="128.9" r="0.8" fill="#3a8a3c" fill-opacity="0.85"/>
<circle cx="99.3" cy="127.4" r="0.8" fill="#3a8a3c" fill-opacity="0.85"/>
<circle cx="75.4" cy="127.6" r="0.8" fill="#2a2865" fill-opacity="0.85"/>
<circle cx="97.7" cy="122.2" r="0.8" fill="#3a8a3c" fill-opacity="0.85"/>
<circle cx="51.0" cy="98.4" r="0.75" fill="#2a2865" fill-opacity="0.85"/>
<circle cx="72.2" cy="104.4" r="0.8" fill="#2a2865" fill-opacity="0.85"/>
<circle cx="75.4" cy="101.9" r="0.8" fill="#2a2865" fill-opacity="0.85"/>
<circle cx="76.6" cy="104.9" r="0.75" fill="#2a2865" fill-opacity="0.85"/>
<circle cx="75.4" cy="102.7" r="0.8" fill="#2a2865" fill-opacity="0.85"/>
<circle cx="77.3" cy="112.8" r="0.8" fill="#2a2865" fill-opacity="0.85"/>
<circle cx="67.7" cy="127.1" r="0.8" fill="#2a2865" fill-opacity="0.85"/>
<circle cx="77.2" cy="123.9" r="0.8" fill="#2a2865" fill-opacity="0.85"/>
<circle cx="75.3" cy="112.1" r="0.8" fill="#2a2865" fill-opacity="0.85"/>
<circle cx="75.1" cy="125.2" r="0.8" fill="#2a2865" fill-opacity="0.85"/>
<circle cx="101.3" cy="115.4" r="0.8" fill="#3a8a3c" fill-opacity="0.85"/>
<circle cx="98.3" cy="118.3" r="0.8" fill="#3a8a3c" fill-opacity="0.85"/>
<circle cx="76.7" cy="117.7" r="0.8" fill="#2a2865" fill-opacity="0.85"/>
<circle cx="71.6" cy="119.1" r="0.8" fill="#2a2865" fill-opacity="0.85"/>
<circle cx="102.1" cy="126.8" r="0.8" fill="#3a8a3c" fill-opacity="0.85"/>
<circle cx="100.0" cy="121.3" r="0.8" fill="#3a8a3c" fill-opacity="0.85"/>
<circle cx="74.5" cy="127.4" r="0.8" fill="#2a2865" fill-opacity="0.85"/>
<circle cx="63.3" cy="125.7" r="0.8" fill="#2a2865" fill-opacity="0.85"/>
<circle cx="99.1" cy="102.2" r="0.75" fill="#3a8a3c" fill-opacity="0.85"/>
<circle cx="104.1" cy="127.9" r="0.8" fill="#3a8a3c" fill-opacity="0.85"/>
<circle cx="76.0" cy="130.0" r="0.8" fill="#2a2865" fill-opacity="0.85"/>
<circle cx="69.8" cy="117.4" r="0.8" fill="#2a2865" fill-opacity="0.85"/>
<circle cx="74.0" cy="128.2" r="0.8" fill="#2a2865" fill-opacity="0.85"/>
<circle cx="97.7" cy="129.4" r="0.8" fill="#3a8a3c" fill-opacity="0.85"/>
<circle cx="103.8" cy="128.0" r="0.8" fill="#3a8a3c" fill-opacity="0.85"/>
<circle cx="76.1" cy="126.0" r="0.8" fill="#2a2865" fill-opacity="0.85"/>
<circle cx="97.5" cy="129.3" r="0.8" fill="#3a8a3c" fill-opacity="0.85"/>
<circle cx="97.6" cy="130.3" r="0.8" fill="#3a8a3c" fill-opacity="0.85"/>
<circle cx="77.0" cy="125.9" r="0.8" fill="#2a2865" fill-opacity="0.85"/>
<circle cx="99.9" cy="130.3" r="0.8" fill="#3a8a3c" fill-opacity="0.85"/>
<circle cx="98.3" cy="125.6" r="0.8" fill="#3a8a3c" fill-opacity="0.85"/>
<circle cx="76.9" cy="113.1" r="0.8" fill="#2a2865" fill-opacity="0.85"/>
<circle cx="70.8" cy="130.3" r="0.8" fill="#2a2865" fill-opacity="0.85"/>
<circle cx="98.3" cy="127.8" r="0.8" fill="#3a8a3c" fill-opacity="0.85"/>
<circle cx="103.6" cy="129.0" r="0.8" fill="#3a8a3c" fill-opacity="0.85"/>
<circle cx="98.3" cy="125.6" r="0.8" fill="#3a8a3c" fill-opacity="0.85"/>
<circle cx="65.3" cy="126.9" r="0.8" fill="#2a2865" fill-opacity="0.85"/>
<circle cx="100.0" cy="115.5" r="0.8" fill="#3a8a3c" fill-opacity="0.85"/>
<circle cx="73.2" cy="125.5" r="0.8" fill="#2a2865" fill-opacity="0.85"/>
<circle cx="72.9" cy="126.6" r="0.8" fill="#2a2865" fill-opacity="0.85"/>
<circle cx="67.3" cy="116.2" r="0.8" fill="#2a2865" fill-opacity="0.85"/>
<circle cx="99.3" cy="130.4" r="0.8" fill="#3a8a3c" fill-opacity="0.85"/>
<circle cx="103.3" cy="126.7" r="0.8" fill="#3a8a3c" fill-opacity="0.85"/>
<circle cx="77.3" cy="120.6" r="0.8" fill="#2a2865" fill-opacity="0.85"/>
<circle cx="77.2" cy="122.4" r="0.8" fill="#2a2865" fill-opacity="0.85"/>
<circle cx="103.3" cy="129.5" r="0.8" fill="#3a8a3c" fill-opacity="0.85"/>
<circle cx="70.8" cy="126.8" r="0.8" fill="#2a2865" fill-opacity="0.85"/>
<circle cx="73.0" cy="107.2" r="0.8" fill="#2a2865" fill-opacity="0.85"/>
<circle cx="97.9" cy="128.1" r="0.8" fill="#3a8a3c" fill-opacity="0.85"/>
<circle cx="73.3" cy="117.5" r="0.8" fill="#2a2865" fill-opacity="0.85"/>
<circle cx="74.5" cy="110.9" r="0.8" fill="#2a2865" fill-opacity="0.85"/>
<circle cx="75.7" cy="102.6" r="0.8" fill="#2a2865" fill-opacity="0.85"/>
<circle cx="109.1" cy="118.7" r="0.75" fill="#3a8a3c" fill-opacity="0.85"/>
<circle cx="75.0" cy="130.3" r="0.8" fill="#2a2865" fill-opacity="0.85"/>
<circle cx="104.0" cy="130.1" r="0.8" fill="#3a8a3c" fill-opacity="0.85"/>
<circle cx="76.9" cy="130.1" r="0.8" fill="#2a2865" fill-opacity="0.85"/>
<circle cx="99.0" cy="105.7" r="0.8" fill="#3a8a3c" fill-opacity="0.85"/>
<circle cx="102.5" cy="127.1" r="0.8" fill="#3a8a3c" fill-opacity="0.85"/>
<circle cx="100.6" cy="129.3" r="0.8" fill="#3a8a3c" fill-opacity="0.85"/>
<circle cx="112.3" cy="111.9" r="0.75" fill="#3a8a3c" fill-opacity="0.85"/>
<circle cx="97.5" cy="128.1" r="0.8" fill="#3a8a3c" fill-opacity="0.85"/>
<circle cx="102.2" cy="129.2" r="0.8" fill="#3a8a3c" fill-opacity="0.85"/>
<circle cx="68.9" cy="123.9" r="0.8" fill="#2a2865" fill-opacity="0.85"/>
<circle cx="71.5" cy="127.2" r="0.8" fill="#2a2865" fill-opacity="0.85"/>
<circle cx="71.5" cy="125.0" r="0.8" fill="#2a2865" fill-opacity="0.85"/>
<circle cx="99.9" cy="121.8" r="0.8" fill="#3a8a3c" fill-opacity="0.85"/>
<circle cx="67.3" cy="121.6" r="0.75" fill="#2a2865" fill-opacity="0.85"/>
<circle cx="99.9" cy="128.2" r="0.8" fill="#3a8a3c" fill-opacity="0.85"/>
<circle cx="72.0" cy="117.2" r="0.8" fill="#2a2865" fill-opacity="0.85"/>
<circle cx="73.8" cy="129.9" r="0.8" fill="#2a2865" fill-opacity="0.85"/>
<circle cx="102.2" cy="127.6" r="0.8" fill="#3a8a3c" fill-opacity="0.85"/>
<circle cx="100.2" cy="127.4" r="0.8" fill="#3a8a3c" fill-opacity="0.85"/>
<circle cx="97.5" cy="104.9" r="0.8" fill="#3a8a3c" fill-opacity="0.85"/>
<circle cx="64.1" cy="130.2" r="0.8" fill="#2a2865" fill-opacity="0.85"/>
<circle cx="105.9" cy="127.3" r="0.8" fill="#3a8a3c" fill-opacity="0.85"/>
<circle cx="105.6" cy="112.4" r="0.75" fill="#3a8a3c" fill-opacity="0.85"/>
<circle cx="69.1" cy="129.7" r="0.8" fill="#2a2865" fill-opacity="0.85"/>
<circle cx="101.7" cy="124.9" r="0.8" fill="#3a8a3c" fill-opacity="0.85"/>
<circle cx="64.2" cy="130.4" r="0.8" fill="#2a2865" fill-opacity="0.85"/>
<circle cx="77.1" cy="129.9" r="0.8" fill="#2a2865" fill-opacity="0.85"/>
<circle cx="67.7" cy="128.0" r="0.8" fill="#2a2865" fill-opacity="0.85"/>
<circle cx="107.4" cy="123.2" r="0.8" fill="#3a8a3c" fill-opacity="0.85"/>
<circle cx="98.2" cy="129.6" r="0.8" fill="#3a8a3c" fill-opacity="0.85"/>
<circle cx="75.8" cy="130.4" r="0.8" fill="#2a2865" fill-opacity="0.85"/>
<circle cx="64.0" cy="128.7" r="0.8" fill="#2a2865" fill-opacity="0.85"/>
<circle cx="100.7" cy="127.1" r="0.8" fill="#3a8a3c" fill-opacity="0.85"/>
<circle cx="73.3" cy="128.2" r="0.8" fill="#2a2865" fill-opacity="0.85"/>
<circle cx="77.3" cy="103.2" r="0.8" fill="#2a2865" fill-opacity="0.85"/>
<circle cx="76.9" cy="126.3" r="0.8" fill="#2a2865" fill-opacity="0.85"/>
<circle cx="97.6" cy="101.2" r="0.8" fill="#3a8a3c" fill-opacity="0.85"/>
<circle cx="99.6" cy="127.9" r="0.8" fill="#3a8a3c" fill-opacity="0.85"/>
<circle cx="99.9" cy="126.8" r="0.8" fill="#3a8a3c" fill-opacity="0.85"/>
<circle cx="71.2" cy="126.0" r="0.8" fill="#2a2865" fill-opacity="0.85"/>
<circle cx="98.1" cy="114.9" r="0.8" fill="#3a8a3c" fill-opacity="0.85"/>
<circle cx="64.8" cy="127.1" r="0.8" fill="#2a2865" fill-opacity="0.85"/>
<circle cx="74.9" cy="100.8" r="0.8" fill="#2a2865" fill-opacity="0.85"/>
<circle cx="64.0" cy="129.1" r="0.8" fill="#2a2865" fill-opacity="0.85"/>
<circle cx="66.2" cy="130.1" r="0.8" fill="#2a2865" fill-opacity="0.85"/>
<circle cx="76.4" cy="115.6" r="0.8" fill="#2a2865" fill-opacity="0.85"/>
<circle cx="63.8" cy="126.2" r="0.8" fill="#2a2865" fill-opacity="0.85"/>
<circle cx="98.3" cy="129.3" r="0.8" fill="#3a8a3c" fill-opacity="0.85"/>
<circle cx="104.5" cy="125.9" r="0.8" fill="#3a8a3c" fill-opacity="0.85"/>
<circle cx="74.9" cy="126.0" r="0.8" fill="#2a2865" fill-opacity="0.85"/>
<circle cx="75.4" cy="126.4" r="0.8" fill="#2a2865" fill-opacity="0.85"/>
<circle cx="67.7" cy="130.2" r="0.8" fill="#2a2865" fill-opacity="0.85"/>
<circle cx="75.7" cy="102.9" r="0.8" fill="#2a2865" fill-opacity="0.85"/>
<circle cx="73.0" cy="105.4" r="0.75" fill="#2a2865" fill-opacity="0.85"/>
<circle cx="111.0" cy="127.0" r="0.8" fill="#3a8a3c" fill-opacity="0.85"/>
<circle cx="105.9" cy="128.2" r="0.8" fill="#3a8a3c" fill-opacity="0.85"/>
<circle cx="76.2" cy="129.2" r="0.8" fill="#2a2865" fill-opacity="0.85"/>
<circle cx="75.7" cy="103.6" r="0.8" fill="#2a2865" fill-opacity="0.85"/>
<circle cx="100.1" cy="119.1" r="0.8" fill="#3a8a3c" fill-opacity="0.85"/>
<circle cx="72.6" cy="128.9" r="0.8" fill="#2a2865" fill-opacity="0.85"/>
<circle cx="73.4" cy="129.0" r="0.8" fill="#2a2865" fill-opacity="0.85"/>
<circle cx="76.9" cy="125.5" r="0.8" fill="#2a2865" fill-opacity="0.85"/>
<circle cx="64.9" cy="129.5" r="0.8" fill="#2a2865" fill-opacity="0.85"/>
<circle cx="64.3" cy="129.5" r="0.8" fill="#2a2865" fill-opacity="0.85"/>
<circle cx="100.3" cy="125.4" r="0.8" fill="#3a8a3c" fill-opacity="0.85"/>
<circle cx="69.0" cy="116.4" r="0.8" fill="#2a2865" fill-opacity="0.85"/>
<circle cx="76.7" cy="126.0" r="0.8" fill="#2a2865" fill-opacity="0.85"/>
<circle cx="103.7" cy="127.4" r="0.8" fill="#3a8a3c" fill-opacity="0.85"/>
<circle cx="103.3" cy="129.2" r="0.8" fill="#3a8a3c" fill-opacity="0.85"/>
<circle cx="77.1" cy="119.4" r="0.8" fill="#2a2865" fill-opacity="0.85"/>
<circle cx="99.4" cy="125.3" r="0.8" fill="#3a8a3c" fill-opacity="0.85"/>
<circle cx="97.5" cy="117.3" r="0.8" fill="#3a8a3c" fill-opacity="0.85"/>
<circle cx="75.8" cy="123.3" r="0.8" fill="#2a2865" fill-opacity="0.85"/>
<circle cx="70.5" cy="108.2" r="0.8" fill="#2a2865" fill-opacity="0.85"/>
<circle cx="73.0" cy="97.0" r="0.8" fill="#2a2865" fill-opacity="0.85"/>
<circle cx="99.7" cy="125.2" r="0.8" fill="#3a8a3c" fill-opacity="0.85"/>
<circle cx="97.5" cy="129.0" r="0.8" fill="#3a8a3c" fill-opacity="0.85"/>
<circle cx="50.0" cy="127.0" r="0.8" fill="#2a2865" fill-opacity="0.85"/>
<circle cx="76.2" cy="119.9" r="0.8" fill="#2a2865" fill-opacity="0.85"/>
<circle cx="99.2" cy="122.5" r="0.8" fill="#3a8a3c" fill-opacity="0.85"/>
<circle cx="73.2" cy="127.8" r="0.8" fill="#2a2865" fill-opacity="0.85"/>
<circle cx="76.7" cy="129.9" r="0.75" fill="#2a2865" fill-opacity="0.85"/>
<circle cx="73.9" cy="130.4" r="0.8" fill="#2a2865" fill-opacity="0.85"/>
<circle cx="101.5" cy="121.1" r="0.8" fill="#3a8a3c" fill-opacity="0.85"/>
<circle cx="72.1" cy="110.3" r="0.8" fill="#2a2865" fill-opacity="0.85"/>
<circle cx="76.6" cy="105.8" r="0.8" fill="#2a2865" fill-opacity="0.85"/>
<circle cx="67.9" cy="130.1" r="0.8" fill="#2a2865" fill-opacity="0.85"/>
<circle cx="99.6" cy="102.9" r="0.8" fill="#3a8a3c" fill-opacity="0.85"/>
<circle cx="77.2" cy="111.5" r="0.8" fill="#2a2865" fill-opacity="0.85"/>
<circle cx="72.4" cy="109.9" r="0.8" fill="#2a2865" fill-opacity="0.85"/>
<circle cx="76.6" cy="125.7" r="0.8" fill="#2a2865" fill-opacity="0.85"/>
<circle cx="101.6" cy="130.4" r="0.8" fill="#3a8a3c" fill-opacity="0.85"/>
<circle cx="76.1" cy="117.0" r="0.8" fill="#2a2865" fill-opacity="0.85"/>
<circle cx="62.6" cy="129.1" r="0.8" fill="#2a2865" fill-opacity="0.85"/>
<circle cx="101.1" cy="129.8" r="0.8" fill="#3a8a3c" fill-opacity="0.85"/>
<circle cx="97.5" cy="127.0" r="0.8" fill="#3a8a3c" fill-opacity="0.85"/>
<circle cx="73.1" cy="130.0" r="0.8" fill="#2a2865" fill-opacity="0.85"/>
<circle cx="76.3" cy="128.8" r="0.8" fill="#2a2865" fill-opacity="0.85"/>
<circle cx="74.1" cy="130.3" r="0.8" fill="#2a2865" fill-opacity="0.85"/>
<circle cx="115.7" cy="100.3" r="0.75" fill="#3a8a3c" fill-opacity="0.85"/>
<circle cx="101.0" cy="118.2" r="0.8" fill="#3a8a3c" fill-opacity="0.85"/>
<circle cx="99.9" cy="120.7" r="0.8" fill="#3a8a3c" fill-opacity="0.85"/>
<circle cx="97.9" cy="101.3" r="0.8" fill="#3a8a3c" fill-opacity="0.85"/>
<circle cx="105.4" cy="130.4" r="0.8" fill="#3a8a3c" fill-opacity="0.85"/>
<circle cx="73.7" cy="130.4" r="0.8" fill="#2a2865" fill-opacity="0.85"/>
<circle cx="73.5" cy="124.6" r="0.8" fill="#2a2865" fill-opacity="0.85"/>
<circle cx="70.8" cy="129.0" r="0.8" fill="#2a2865" fill-opacity="0.85"/>
<circle cx="76.6" cy="109.6" r="0.8" fill="#2a2865" fill-opacity="0.85"/>
<circle cx="68.6" cy="128.8" r="0.8" fill="#2a2865" fill-opacity="0.85"/>
<circle cx="77.3" cy="127.9" r="0.8" fill="#2a2865" fill-opacity="0.85"/>
<circle cx="76.7" cy="122.4" r="0.8" fill="#2a2865" fill-opacity="0.85"/>
<circle cx="98.6" cy="129.4" r="0.8" fill="#3a8a3c" fill-opacity="0.85"/>
<circle cx="72.4" cy="130.2" r="0.8" fill="#2a2865" fill-opacity="0.85"/>
<circle cx="77.3" cy="105.7" r="0.8" fill="#2a2865" fill-opacity="0.85"/>
<circle cx="76.3" cy="110.8" r="0.8" fill="#2a2865" fill-opacity="0.85"/>
<circle cx="76.5" cy="124.6" r="0.8" fill="#2a2865" fill-opacity="0.85"/>
<circle cx="97.6" cy="118.0" r="0.8" fill="#3a8a3c" fill-opacity="0.85"/>
<circle cx="70.9" cy="123.0" r="0.8" fill="#2a2865" fill-opacity="0.85"/>
<circle cx="74.3" cy="127.1" r="0.8" fill="#2a2865" fill-opacity="0.85"/>
<circle cx="97.5" cy="119.4" r="0.8" fill="#3a8a3c" fill-opacity="0.85"/>
<circle cx="75.4" cy="106.6" r="0.8" fill="#2a2865" fill-opacity="0.85"/>
<circle cx="102.7" cy="118.6" r="0.8" fill="#3a8a3c" fill-opacity="0.85"/>
<circle cx="97.6" cy="100.8" r="0.8" fill="#3a8a3c" fill-opacity="0.85"/>
<circle cx="75.6" cy="127.6" r="0.8" fill="#2a2865" fill-opacity="0.85"/>
<circle cx="72.6" cy="130.3" r="0.8" fill="#2a2865" fill-opacity="0.85"/>
<circle cx="68.4" cy="129.8" r="0.8" fill="#2a2865" fill-opacity="0.85"/>
<circle cx="97.8" cy="100.9" r="0.8" fill="#3a8a3c" fill-opacity="0.85"/>
<circle cx="101.7" cy="110.5" r="0.8" fill="#3a8a3c" fill-opacity="0.85"/>
<circle cx="75.8" cy="127.5" r="0.8" fill="#2a2865" fill-opacity="0.85"/>
<circle cx="70.7" cy="129.2" r="0.8" fill="#2a2865" fill-opacity="0.85"/>
<circle cx="68.5" cy="119.6" r="0.8" fill="#2a2865" fill-opacity="0.85"/>
<circle cx="113.0" cy="117.0" r="0.8" fill="#3a8a3c" fill-opacity="0.85"/>
<circle cx="69.2" cy="125.7" r="0.8" fill="#2a2865" fill-opacity="0.85"/>
<circle cx="69.4" cy="127.8" r="0.8" fill="#2a2865" fill-opacity="0.85"/>
<circle cx="75.8" cy="128.9" r="0.8" fill="#2a2865" fill-opacity="0.85"/>
<circle cx="69.9" cy="126.1" r="0.8" fill="#2a2865" fill-opacity="0.85"/>
<circle cx="68.0" cy="129.8" r="0.8" fill="#2a2865" fill-opacity="0.85"/>
<circle cx="103.4" cy="125.6" r="0.8" fill="#3a8a3c" fill-opacity="0.85"/>
<circle cx="77.0" cy="114.4" r="0.8" fill="#2a2865" fill-opacity="0.85"/>
<circle cx="102.9" cy="130.4" r="0.8" fill="#3a8a3c" fill-opacity="0.85"/>
<circle cx="100.9" cy="114.1" r="0.8" fill="#3a8a3c" fill-opacity="0.85"/>
<circle cx="66.3" cy="130.3" r="0.8" fill="#2a2865" fill-opacity="0.85"/>
<circle cx="97.5" cy="130.0" r="0.8" fill="#3a8a3c" fill-opacity="0.85"/>
<circle cx="74.1" cy="100.4" r="0.8" fill="#2a2865" fill-opacity="0.85"/>
<circle cx="98.0" cy="103.2" r="0.8" fill="#3a8a3c" fill-opacity="0.85"/>
<circle cx="77.2" cy="128.7" r="0.8" fill="#2a2865" fill-opacity="0.85"/>
<circle cx="70.5" cy="130.3" r="0.8" fill="#2a2865" fill-opacity="0.85"/>
<circle cx="73.6" cy="116.6" r="0.8" fill="#2a2865" fill-opacity="0.85"/>
<circle cx="104.2" cy="116.5" r="0.8" fill="#3a8a3c" fill-opacity="0.85"/>
<circle cx="105.3" cy="118.7" r="0.8" fill="#3a8a3c" fill-opacity="0.85"/>
<circle cx="100.9" cy="130.3" r="0.8" fill="#3a8a3c" fill-opacity="0.85"/>
<circle cx="76.1" cy="130.4" r="0.8" fill="#2a2865" fill-opacity="0.85"/>
<circle cx="62.0" cy="130.3" r="0.8" fill="#2a2865" fill-opacity="0.85"/>
<circle cx="75.8" cy="128.9" r="0.8" fill="#2a2865" fill-opacity="0.85"/>
<circle cx="74.7" cy="130.0" r="0.8" fill="#2a2865" fill-opacity="0.85"/>
<circle cx="75.4" cy="108.9" r="0.8" fill="#2a2865" fill-opacity="0.85"/>
<circle cx="99.3" cy="107.2" r="0.8" fill="#3a8a3c" fill-opacity="0.85"/>
<circle cx="74.9" cy="130.2" r="0.8" fill="#2a2865" fill-opacity="0.85"/>
<circle cx="104.8" cy="125.0" r="0.75" fill="#3a8a3c" fill-opacity="0.85"/>
<circle cx="77.2" cy="129.7" r="0.8" fill="#2a2865" fill-opacity="0.85"/>
<circle cx="73.0" cy="124.1" r="0.8" fill="#2a2865" fill-opacity="0.85"/>
<circle cx="70.4" cy="124.6" r="0.8" fill="#2a2865" fill-opacity="0.85"/>
<circle cx="64.7" cy="129.2" r="0.8" fill="#2a2865" fill-opacity="0.85"/>
<circle cx="99.9" cy="127.4" r="0.8" fill="#3a8a3c" fill-opacity="0.85"/>
<circle cx="97.5" cy="99.8" r="0.8" fill="#3a8a3c" fill-opacity="0.85"/>
<circle cx="99.4" cy="124.7" r="0.8" fill="#3a8a3c" fill-opacity="0.85"/>
<circle cx="100.0" cy="115.2" r="0.8" fill="#3a8a3c" fill-opacity="0.85"/>
<circle cx="77.0" cy="127.1" r="0.8" fill="#2a2865" fill-opacity="0.85"/>
<circle cx="102.3" cy="115.4" r="0.75" fill="#3a8a3c" fill-opacity="0.85"/>
<circle cx="97.7" cy="123.0" r="0.8" fill="#3a8a3c" fill-opacity="0.85"/>
<circle cx="99.7" cy="129.1" r="0.8" fill="#3a8a3c" fill-opacity="0.85"/>
<circle cx="71.9" cy="130.2" r="0.8" fill="#2a2865" fill-opacity="0.85"/>
<circle cx="50.5" cy="101.8" r="0.75" fill="#2a2865" fill-opacity="0.85"/>
<circle cx="106.8" cy="129.6" r="0.8" fill="#3a8a3c" fill-opacity="0.85"/>
<circle cx="61.4" cy="130.4" r="0.8" fill="#2a2865" fill-opacity="0.85"/>
<circle cx="106.4" cy="130.0" r="0.8" fill="#3a8a3c" fill-opacity="0.85"/>
<circle cx="53.8" cy="101.7" r="0.75" fill="#2a2865" fill-opacity="0.85"/>
<circle cx="98.6" cy="110.7" r="0.8" fill="#3a8a3c" fill-opacity="0.85"/>
<circle cx="75.8" cy="130.4" r="0.8" fill="#2a2865" fill-opacity="0.85"/>
<circle cx="100.4" cy="126.0" r="0.75" fill="#3a8a3c" fill-opacity="0.85"/>
<circle cx="101.6" cy="129.4" r="0.8" fill="#3a8a3c" fill-opacity="0.85"/>
<circle cx="99.3" cy="125.7" r="0.8" fill="#3a8a3c" fill-opacity="0.85"/>
<circle cx="100.7" cy="128.8" r="0.8" fill="#3a8a3c" fill-opacity="0.85"/>
<circle cx="102.9" cy="129.5" r="0.8" fill="#3a8a3c" fill-opacity="0.85"/>
<circle cx="76.4" cy="126.9" r="0.8" fill="#2a2865" fill-opacity="0.85"/>
<circle cx="105.4" cy="128.2" r="0.8" fill="#3a8a3c" fill-opacity="0.85"/>
<circle cx="74.5" cy="123.4" r="0.8" fill="#2a2865" fill-opacity="0.85"/>
<circle cx="74.4" cy="129.9" r="0.8" fill="#2a2865" fill-opacity="0.85"/>
<circle cx="97.8" cy="107.2" r="0.8" fill="#3a8a3c" fill-opacity="0.85"/>
<circle cx="68.6" cy="125.0" r="0.8" fill="#2a2865" fill-opacity="0.85"/>
<circle cx="99.1" cy="126.3" r="0.8" fill="#3a8a3c" fill-opacity="0.85"/>
<circle cx="70.1" cy="128.2" r="0.8" fill="#2a2865" fill-opacity="0.85"/>
<circle cx="73.6" cy="124.5" r="0.8" fill="#2a2865" fill-opacity="0.85"/>
<circle cx="72.0" cy="127.9" r="0.8" fill="#2a2865" fill-opacity="0.85"/>
<circle cx="76.3" cy="100.5" r="0.8" fill="#2a2865" fill-opacity="0.85"/>
<circle cx="104.7" cy="116.6" r="0.8" fill="#3a8a3c" fill-opacity="0.85"/>
<circle cx="98.3" cy="106.4" r="0.8" fill="#3a8a3c" fill-opacity="0.85"/>
<circle cx="98.1" cy="130.2" r="0.8" fill="#3a8a3c" fill-opacity="0.85"/>
<circle cx="101.5" cy="129.1" r="0.8" fill="#3a8a3c" fill-opacity="0.85"/>
<circle cx="77.2" cy="128.8" r="0.8" fill="#2a2865" fill-opacity="0.85"/>
<circle cx="66.5" cy="123.3" r="0.8" fill="#2a2865" fill-opacity="0.85"/>
<circle cx="75.0" cy="130.4" r="0.8" fill="#2a2865" fill-opacity="0.85"/>
<circle cx="75.9" cy="129.6" r="0.8" fill="#2a2865" fill-opacity="0.85"/>
<circle cx="99.6" cy="124.3" r="0.8" fill="#3a8a3c" fill-opacity="0.85"/>
<circle cx="71.7" cy="106.1" r="0.8" fill="#2a2865" fill-opacity="0.85"/>
<circle cx="63.0" cy="129.9" r="0.8" fill="#2a2865" fill-opacity="0.85"/>
<circle cx="98.5" cy="126.3" r="0.8" fill="#3a8a3c" fill-opacity="0.85"/>
<circle cx="101.1" cy="109.0" r="0.8" fill="#3a8a3c" fill-opacity="0.85"/>
<circle cx="100.5" cy="129.0" r="0.8" fill="#3a8a3c" fill-opacity="0.85"/>
<circle cx="76.5" cy="130.0" r="0.8" fill="#2a2865" fill-opacity="0.85"/>
<circle cx="75.5" cy="129.1" r="0.8" fill="#2a2865" fill-opacity="0.85"/>
<circle cx="97.9" cy="130.3" r="0.8" fill="#3a8a3c" fill-opacity="0.85"/>
<circle cx="97.7" cy="106.3" r="0.75" fill="#3a8a3c" fill-opacity="0.85"/>
<circle cx="73.6" cy="124.1" r="0.8" fill="#2a2865" fill-opacity="0.85"/>
<circle cx="70.9" cy="111.1" r="0.8" fill="#2a2865" fill-opacity="0.85"/>
<circle cx="99.5" cy="101.6" r="0.8" fill="#3a8a3c" fill-opacity="0.85"/>
<circle cx="104.7" cy="124.4" r="0.8" fill="#3a8a3c" fill-opacity="0.85"/>
<circle cx="73.6" cy="111.5" r="0.8" fill="#2a2865" fill-opacity="0.85"/>
<circle cx="97.9" cy="126.4" r="0.8" fill="#3a8a3c" fill-opacity="0.85"/>
<circle cx="99.3" cy="129.0" r="0.8" fill="#3a8a3c" fill-opacity="0.85"/>
<circle cx="77.3" cy="112.8" r="0.8" fill="#2a2865" fill-opacity="0.85"/>
<circle cx="71.4" cy="106.2" r="0.8" fill="#2a2865" fill-opacity="0.85"/>
<circle cx="70.4" cy="127.8" r="0.8" fill="#2a2865" fill-opacity="0.85"/>
<circle cx="101.0" cy="122.9" r="0.8" fill="#3a8a3c" fill-opacity="0.85"/>
<circle cx="98.6" cy="126.2" r="0.8" fill="#3a8a3c" fill-opacity="0.85"/>
<circle cx="99.9" cy="130.4" r="0.8" fill="#3a8a3c" fill-opacity="0.85"/>
<circle cx="102.1" cy="129.7" r="0.8" fill="#3a8a3c" fill-opacity="0.85"/>
<circle cx="110.5" cy="105.3" r="0.75" fill="#3a8a3c" fill-opacity="0.85"/>
<circle cx="97.6" cy="130.3" r="0.8" fill="#3a8a3c" fill-opacity="0.85"/>
<circle cx="68.1" cy="130.1" r="0.8" fill="#2a2865" fill-opacity="0.85"/>
<circle cx="77.2" cy="130.2" r="0.8" fill="#2a2865" fill-opacity="0.85"/>
<circle cx="103.1" cy="128.3" r="0.8" fill="#3a8a3c" fill-opacity="0.85"/>
<circle cx="72.3" cy="126.2" r="0.8" fill="#2a2865" fill-opacity="0.85"/>
<circle cx="98.8" cy="126.1" r="0.8" fill="#3a8a3c" fill-opacity="0.85"/>
<circle cx="97.6" cy="122.0" r="0.8" fill="#3a8a3c" fill-opacity="0.85"/>
<circle cx="68.9" cy="129.7" r="0.8" fill="#2a2865" fill-opacity="0.85"/>
<circle cx="65.0" cy="99.0" r="0.8" fill="#2a2865" fill-opacity="0.85"/>
<circle cx="98.4" cy="120.5" r="0.8" fill="#3a8a3c" fill-opacity="0.85"/>
<circle cx="102.0" cy="120.4" r="0.8" fill="#3a8a3c" fill-opacity="0.85"/>
<circle cx="76.4" cy="123.5" r="0.8" fill="#2a2865" fill-opacity="0.85"/>
<circle cx="97.6" cy="125.9" r="0.8" fill="#3a8a3c" fill-opacity="0.85"/>
<circle cx="98.1" cy="116.1" r="0.8" fill="#3a8a3c" fill-opacity="0.85"/>
<circle cx="61.9" cy="129.3" r="0.8" fill="#2a2865" fill-opacity="0.85"/>
<circle cx="98.6" cy="99.8" r="0.8" fill="#3a8a3c" fill-opacity="0.85"/>
<circle cx="73.8" cy="111.3" r="0.8" fill="#2a2865" fill-opacity="0.85"/>
<circle cx="77.2" cy="130.4" r="0.8" fill="#2a2865" fill-opacity="0.85"/>
<circle cx="76.9" cy="128.0" r="0.8" fill="#2a2865" fill-opacity="0.85"/>
<circle cx="76.9" cy="129.0" r="0.8" fill="#2a2865" fill-opacity="0.85"/>
<circle cx="102.4" cy="121.6" r="0.8" fill="#3a8a3c" fill-opacity="0.85"/>
<circle cx="68.8" cy="116.9" r="0.8" fill="#2a2865" fill-opacity="0.85"/>
<circle cx="108.0" cy="122.0" r="0.8" fill="#3a8a3c" fill-opacity="0.85"/>
<circle cx="103.2" cy="122.6" r="0.75" fill="#3a8a3c" fill-opacity="0.85"/>
<circle cx="98.5" cy="127.3" r="0.8" fill="#3a8a3c" fill-opacity="0.85"/>
<circle cx="75.6" cy="127.8" r="0.8" fill="#2a2865" fill-opacity="0.85"/>
<circle cx="74.0" cy="125.8" r="0.8" fill="#2a2865" fill-opacity="0.85"/>
<circle cx="103.7" cy="120.5" r="0.8" fill="#3a8a3c" fill-opacity="0.85"/>
<circle cx="71.7" cy="115.3" r="0.8" fill="#2a2865" fill-opacity="0.85"/>
<circle cx="76.2" cy="116.7" r="0.8" fill="#2a2865" fill-opacity="0.85"/>
<circle cx="68.9" cy="129.4" r="0.8" fill="#2a2865" fill-opacity="0.85"/>
<circle cx="69.1" cy="130.2" r="0.8" fill="#2a2865" fill-opacity="0.85"/>
<circle cx="68.3" cy="130.2" r="0.8" fill="#2a2865" fill-opacity="0.85"/>
<circle cx="77.3" cy="122.7" r="0.8" fill="#2a2865" fill-opacity="0.85"/>
<circle cx="72.9" cy="124.0" r="0.8" fill="#2a2865" fill-opacity="0.85"/>
<circle cx="99.4" cy="120.4" r="0.8" fill="#3a8a3c" fill-opacity="0.85"/>
<circle cx="67.2" cy="130.3" r="0.8" fill="#2a2865" fill-opacity="0.85"/>
<circle cx="100.8" cy="125.3" r="0.8" fill="#3a8a3c" fill-opacity="0.85"/>
<circle cx="98.9" cy="123.7" r="0.8" fill="#3a8a3c" fill-opacity="0.85"/>
<circle cx="97.8" cy="107.0" r="0.8" fill="#3a8a3c" fill-opacity="0.85"/>
<circle cx="71.5" cy="110.8" r="0.8" fill="#2a2865" fill-opacity="0.85"/>
<circle cx="113.6" cy="129.8" r="0.75" fill="#3a8a3c" fill-opacity="0.85"/>
</g>
<line x1="77.85" y1="29.50" x2="77.85" y2="135.50" stroke="#333" stroke-width="1.1" stroke-dasharray="3.8,2.0"/>
<line x1="97.35" y1="29.50" x2="97.35" y2="135.50" stroke="#333" stroke-width="1.1" stroke-dasharray="3.8,2.0"/>
<line x1="29.50" y1="130.80" x2="144.50" y2="130.80" stroke="#444" stroke-width="1.2" stroke-dasharray="4.2,2.4"/>
<rect x="71.80" y="131.40" width="13.00" height="4.00" fill="#fff"/>
<rect x="97.40" y="131.40" width="20.00" height="4.00" fill="#fff"/>
<text x="104.20" y="55.70" font-size="7.2" text-anchor="middle" textLength="9.00" lengthAdjust="spacingAndGlyphs" fill="#2a2a2a" stroke="#2a2a2a" stroke-width="0.15">Tlr2</text>
<text x="99.70" y="64.70" font-size="7.2" text-anchor="middle" textLength="16.50" lengthAdjust="spacingAndGlyphs" fill="#2a2a2a" stroke="#2a2a2a" stroke-width="0.15">Ifitm2</text>
<text x="94.30" y="81.20" font-size="7.2" text-anchor="middle" textLength="16.00" lengthAdjust="spacingAndGlyphs" fill="#2a2a2a" stroke="#2a2a2a" stroke-width="0.15">Gzmo</text>
<text x="71.40" y="84.00" font-size="7.2" text-anchor="middle" textLength="9.50" lengthAdjust="spacingAndGlyphs" fill="#2a2a2a" stroke="#2a2a2a" stroke-width="0.15">Tcf7</text>
<text x="97.30" y="92.70" font-size="7.2" text-anchor="middle" textLength="17.20" lengthAdjust="spacingAndGlyphs" fill="#2a2a2a" stroke="#2a2a2a" stroke-width="0.15">Ifitm3</text>
<text x="75.00" y="103.10" font-size="7.2" text-anchor="middle" textLength="15.00" lengthAdjust="spacingAndGlyphs" fill="#2a2a2a" stroke="#2a2a2a" stroke-width="0.15">Cd83</text>
<text x="63.50" y="107.60" font-size="7.2" text-anchor="middle" textLength="13.20" lengthAdjust="spacingAndGlyphs" fill="#2a2a2a" stroke="#2a2a2a" stroke-width="0.15">Ccr9</text>
<text x="93.20" y="111.00" font-size="7.2" text-anchor="middle" textLength="10.00" lengthAdjust="spacingAndGlyphs" fill="#2a2a2a" stroke="#2a2a2a" stroke-width="0.15">Il2ra</text>
<text x="113.50" y="114.00" font-size="7.2" text-anchor="middle" textLength="14.00" lengthAdjust="spacingAndGlyphs" fill="#2a2a2a" stroke="#2a2a2a" stroke-width="0.15">Ifitm1</text>
<text x="60.60" y="120.30" font-size="7.2" text-anchor="middle" textLength="17.00" lengthAdjust="spacingAndGlyphs" fill="#2a2a2a" stroke="#2a2a2a" stroke-width="0.15">Cxcr5</text>
<text x="92.70" y="122.50" font-size="7.2" text-anchor="middle" textLength="8.70" lengthAdjust="spacingAndGlyphs" fill="#2a2a2a" stroke="#2a2a2a" stroke-width="0.15">Gzma</text>
<text x="61.50" y="126.00" font-size="7.2" text-anchor="middle" textLength="10.80" lengthAdjust="spacingAndGlyphs" fill="#2a2a2a" stroke="#2a2a2a" stroke-width="0.15">Cxcl1</text>
<text x="61.50" y="131.40" font-size="7.2" text-anchor="middle" textLength="16.20" lengthAdjust="spacingAndGlyphs" fill="#2a2a2a" stroke="#2a2a2a" stroke-width="0.15">Foxa3</text>
<text x="86.80" y="131.50" font-size="7.2" text-anchor="middle" textLength="15.60" lengthAdjust="spacingAndGlyphs" fill="#2a2a2a" stroke="#2a2a2a" stroke-width="0.15">Ly6c2</text>
<text x="78.20" y="136.20" font-size="7.2" text-anchor="middle" textLength="11.00" lengthAdjust="spacingAndGlyphs" fill="#2a2a2a" stroke="#2a2a2a" stroke-width="0.15">Rgs16</text>
<text x="107.20" y="136.20" font-size="7.2" text-anchor="middle" textLength="18.80" lengthAdjust="spacingAndGlyphs" fill="#2a2a2a" stroke="#2a2a2a" stroke-width="0.15">Lgals1</text>
<line x1="104.80" y1="48.90" x2="104.50" y2="50.20" stroke="#444" stroke-width="0.6"/>
<line x1="97.50" y1="59.20" x2="97.30" y2="60.50" stroke="#444" stroke-width="0.6"/>
<line x1="73.50" y1="84.00" x2="75.70" y2="83.00" stroke="#444" stroke-width="0.6"/>
<line x1="97.20" y1="82.50" x2="97.20" y2="86.50" stroke="#444" stroke-width="0.6"/>
<line x1="97.20" y1="73.00" x2="99.00" y2="73.00" stroke="#444" stroke-width="0.6"/>
<rect x="29.6" y="28.9" width="114.9" height="106.8" fill="none" stroke="#1a1a1a" stroke-width="1.2"/>
<line x1="26.40" y1="131.90" x2="29.60" y2="131.90" stroke="#1a1a1a" stroke-width="1.0"/>
<text x="23.30" y="134.35" font-size="7.1" text-anchor="end" textLength="3.80" lengthAdjust="spacingAndGlyphs" fill="#333" stroke="#333" stroke-width="0.12">0</text>
<line x1="26.40" y1="98.97" x2="29.60" y2="98.97" stroke="#1a1a1a" stroke-width="1.0"/>
<text x="23.30" y="101.42" font-size="7.1" text-anchor="end" textLength="11.00" lengthAdjust="spacingAndGlyphs" fill="#333" stroke="#333" stroke-width="0.12">100</text>
<line x1="26.40" y1="66.04" x2="29.60" y2="66.04" stroke="#1a1a1a" stroke-width="1.0"/>
<text x="23.30" y="68.49" font-size="7.1" text-anchor="end" textLength="11.00" lengthAdjust="spacingAndGlyphs" fill="#333" stroke="#333" stroke-width="0.12">200</text>
<line x1="26.40" y1="33.11" x2="29.60" y2="33.11" stroke="#1a1a1a" stroke-width="1.0"/>
<text x="23.30" y="35.56" font-size="7.1" text-anchor="end" textLength="11.00" lengthAdjust="spacingAndGlyphs" fill="#333" stroke="#333" stroke-width="0.12">300</text>
<line x1="55.10" y1="135.70" x2="55.10" y2="138.60" stroke="#1a1a1a" stroke-width="1.0"/>
<text x="53.90" y="148.60" font-size="7.0" text-anchor="middle" fill="#3a3a3a" stroke="#3a3a3a" stroke-width="0.1">-5</text>
<line x1="87.60" y1="135.70" x2="87.60" y2="138.60" stroke="#1a1a1a" stroke-width="1.0"/>
<text x="87.60" y="148.60" font-size="7.0" text-anchor="middle" fill="#3a3a3a" stroke="#3a3a3a" stroke-width="0.1">0</text>
<line x1="120.10" y1="135.70" x2="120.10" y2="138.60" stroke="#1a1a1a" stroke-width="1.0"/>
<text x="120.10" y="148.60" font-size="7.0" text-anchor="middle" fill="#3a3a3a" stroke="#3a3a3a" stroke-width="0.1">5</text>
<text transform="translate(7.2,82.9) rotate(-90)" font-size="7.2" text-anchor="middle" fill="#333" textLength="23" lengthAdjust="spacingAndGlyphs">-Log<tspan font-size="5" dy="1.8">10</tspan><tspan dy="-1.8" font-style="italic"> P</tspan></text>
<text x="87.0" y="159.6" font-size="7.6" text-anchor="middle" fill="#2a2a2a" stroke="#2a2a2a" stroke-width="0.12" textLength="46" lengthAdjust="spacingAndGlyphs">Log<tspan font-size="5" dy="1.8">2</tspan><tspan dy="-1.8"> fold change</tspan></text>
<text x="33.8" y="173.8" font-size="6.9" fill="#231f20" stroke="#231f20" stroke-width="0.12" textLength="106.8" lengthAdjust="spacingAndGlyphs">FC cutoff, 1.5; <tspan font-style="italic">P</tspan> value cutoff, 10e−4</text>
<text x="148.50" y="55.30" font-size="7.1" textLength="34.00" lengthAdjust="spacingAndGlyphs" fill="#2a2a2a">Enrichment</text>
<circle cx="148.9" cy="63.6" r="1.75" fill="#c4c4c4"/>
<text x="153.00" y="65.80" font-size="6.4" textLength="16.00" lengthAdjust="spacingAndGlyphs" fill="#c8c8c8">None</text>
<circle cx="148.9" cy="72.8" r="1.75" fill="#5c9e5e"/>
<text x="153.00" y="75.00" font-size="6.4" textLength="13.00" lengthAdjust="spacingAndGlyphs" fill="#5a9c5c">oIL2</text>
<circle cx="148.9" cy="80.4" r="1.75" fill="#3d3a7a"/>
<text x="153.00" y="82.60" font-size="6.4" textLength="12.00" lengthAdjust="spacingAndGlyphs" fill="#3d3a7a">PBS</text>
<text x="200.30" y="9.80" font-size="11.0" font-weight="bold" textLength="6.00" lengthAdjust="spacingAndGlyphs" fill="#231f20" stroke="#231f20" stroke-width="0.3">E</text>
<rect x="365.80" y="31.00" width="150.10" height="6.60" fill="#8d1329"/>
<line x1="362.20" y1="34.30" x2="365.30" y2="34.30" stroke="#231f20" stroke-width="0.9"/>
<text x="358.20" y="36.70" font-size="6.7" text-anchor="end" textLength="147.60" lengthAdjust="spacingAndGlyphs" fill="#231f20" stroke="#231f20" stroke-width="0.12">HALLMARK_INTERFERON_GAMMA_RESPONSE</text>
<rect x="365.80" y="39.20" width="150.10" height="6.60" fill="#8d1329"/>
<line x1="362.20" y1="42.50" x2="365.30" y2="42.50" stroke="#231f20" stroke-width="0.9"/>
<text x="358.20" y="44.90" font-size="6.7" text-anchor="end" textLength="108.60" lengthAdjust="spacingAndGlyphs" fill="#231f20" stroke="#231f20" stroke-width="0.12">HALLMARK_IL2_STAT5_SIGNALING</text>
<rect x="365.80" y="47.40" width="138.10" height="6.60" fill="#8d1329"/>
<line x1="362.20" y1="50.70" x2="365.30" y2="50.70" stroke="#231f20" stroke-width="0.9"/>
<text x="358.20" y="53.10" font-size="6.7" text-anchor="end" textLength="84.20" lengthAdjust="spacingAndGlyphs" fill="#231f20" stroke="#231f20" stroke-width="0.12">HALLMARK_P53_PATHWAY</text>
<rect x="365.80" y="55.60" width="136.60" height="6.60" fill="#8d1329"/>
<line x1="362.20" y1="58.90" x2="365.30" y2="58.90" stroke="#231f20" stroke-width="0.9"/>
<text x="358.20" y="61.30" font-size="6.7" text-anchor="end" textLength="116.90" lengthAdjust="spacingAndGlyphs" fill="#231f20" stroke="#231f20" stroke-width="0.12">HALLMARK_ALLOGRAFT_REJECTION</text>
<rect x="365.80" y="63.80" width="135.30" height="6.60" fill="#8d1329"/>
<line x1="362.20" y1="67.10" x2="365.30" y2="67.10" stroke="#231f20" stroke-width="0.9"/>
<text x="358.20" y="69.50" font-size="6.7" text-anchor="end" textLength="129.40" lengthAdjust="spacingAndGlyphs" fill="#231f20" stroke="#231f20" stroke-width="0.12">HALLMARK_TNFA_SIGNALING_VIA_NFKB</text>
<rect x="365.80" y="72.00" width="114.20" height="6.60" fill="#bbbac6"/>
<line x1="362.20" y1="75.30" x2="365.30" y2="75.30" stroke="#231f20" stroke-width="0.9"/>
<text x="358.20" y="77.70" font-size="6.7" text-anchor="end" textLength="67.80" lengthAdjust="spacingAndGlyphs" fill="#231f20" stroke="#231f20" stroke-width="0.12">HALLMARK_HYPOXIA</text>
<rect x="365.80" y="80.20" width="113.10" height="6.60" fill="#8d1329"/>
<line x1="362.20" y1="83.50" x2="365.30" y2="83.50" stroke="#231f20" stroke-width="0.9"/>
<text x="358.20" y="85.90" font-size="6.7" text-anchor="end" textLength="85.10" lengthAdjust="spacingAndGlyphs" fill="#231f20" stroke="#231f20" stroke-width="0.12">HALLMARK_COMPLEMENT</text>
<rect x="365.80" y="88.40" width="108.50" height="6.60" fill="#8d1329"/>
<line x1="362.20" y1="91.70" x2="365.30" y2="91.70" stroke="#231f20" stroke-width="0.9"/>
<text x="358.20" y="94.10" font-size="6.7" text-anchor="end" textLength="128.40" lengthAdjust="spacingAndGlyphs" fill="#231f20" stroke="#231f20" stroke-width="0.12">HALLMARK_INFLAMMATORY_RESPONSE</text>
<rect x="365.80" y="96.60" width="108.50" height="6.60" fill="#8d1329"/>
<line x1="362.20" y1="99.90" x2="365.30" y2="99.90" stroke="#231f20" stroke-width="0.9"/>
<text x="358.20" y="102.30" font-size="6.7" text-anchor="end" textLength="75.10" lengthAdjust="spacingAndGlyphs" fill="#231f20" stroke="#231f20" stroke-width="0.12">HALLMARK_APOPTOSIS</text>
<rect x="365.80" y="104.80" width="98.10" height="6.60" fill="#8d1329"/>
<line x1="362.20" y1="108.10" x2="365.30" y2="108.10" stroke="#231f20" stroke-width="0.9"/>
<text x="358.20" y="110.50" font-size="6.7" text-anchor="end" textLength="105.90" lengthAdjust="spacingAndGlyphs" fill="#231f20" stroke="#231f20" stroke-width="0.12">HALLMARK_KRAS_SIGNALING_UP</text>
<rect x="365.80" y="113.00" width="75.10" height="6.60" fill="#8d1329"/>
<line x1="362.20" y1="116.30" x2="365.30" y2="116.30" stroke="#231f20" stroke-width="0.9"/>
<text x="358.20" y="118.70" font-size="6.7" text-anchor="end" textLength="143.00" lengthAdjust="spacingAndGlyphs" fill="#231f20" stroke="#231f20" stroke-width="0.12">HALLMARK_INTERFERON_ALPHA_RESPONSE</text>
<rect x="365.80" y="121.20" width="59.90" height="6.60" fill="#bbbac6"/>
<line x1="362.20" y1="124.50" x2="365.30" y2="124.50" stroke="#231f20" stroke-width="0.9"/>
<text x="358.20" y="126.90" font-size="6.7" text-anchor="end" textLength="87.40" lengthAdjust="spacingAndGlyphs" fill="#231f20" stroke="#231f20" stroke-width="0.12">HALLMARK_COAGULATION</text>
<rect x="365.80" y="129.40" width="58.20" height="6.60" fill="#8d1329"/>
<line x1="362.20" y1="132.70" x2="365.30" y2="132.70" stroke="#231f20" stroke-width="0.9"/>
<text x="358.20" y="135.10" font-size="6.7" text-anchor="end" textLength="124.50" lengthAdjust="spacingAndGlyphs" fill="#231f20" stroke="#231f20" stroke-width="0.12">HALLMARK_IL6_JAK_STAT3_SIGNALING</text>
<line x1="365.30" y1="28.40" x2="365.30" y2="141.60" stroke="#231f20" stroke-width="1.0"/>
<line x1="364.80" y1="141.10" x2="513.80" y2="141.10" stroke="#231f20" stroke-width="1.0"/>
<line x1="365.50" y1="141.10" x2="365.50" y2="143.40" stroke="#231f20" stroke-width="1.0"/>
<text x="365.50" y="153.20" font-size="7.1" text-anchor="middle" textLength="3.70" lengthAdjust="spacingAndGlyphs" fill="#333" stroke="#333" stroke-width="0.1">0</text>
<line x1="386.41" y1="141.10" x2="386.41" y2="143.40" stroke="#231f20" stroke-width="1.0"/>
<text x="386.41" y="153.20" font-size="7.1" text-anchor="middle" textLength="7.40" lengthAdjust="spacingAndGlyphs" fill="#333" stroke="#333" stroke-width="0.1">25</text>
<line x1="407.32" y1="141.10" x2="407.32" y2="143.40" stroke="#231f20" stroke-width="1.0"/>
<text x="407.32" y="153.20" font-size="7.1" text-anchor="middle" textLength="7.40" lengthAdjust="spacingAndGlyphs" fill="#333" stroke="#333" stroke-width="0.1">50</text>
<line x1="428.24" y1="141.10" x2="428.24" y2="143.40" stroke="#231f20" stroke-width="1.0"/>
<text x="428.24" y="153.20" font-size="7.1" text-anchor="middle" textLength="7.40" lengthAdjust="spacingAndGlyphs" fill="#333" stroke="#333" stroke-width="0.1">75</text>
<line x1="449.15" y1="141.10" x2="449.15" y2="143.40" stroke="#231f20" stroke-width="1.0"/>
<text x="449.15" y="153.20" font-size="7.1" text-anchor="middle" textLength="11.00" lengthAdjust="spacingAndGlyphs" fill="#333" stroke="#333" stroke-width="0.1">100</text>
<line x1="470.06" y1="141.10" x2="470.06" y2="143.40" stroke="#231f20" stroke-width="1.0"/>
<text x="470.06" y="153.20" font-size="7.1" text-anchor="middle" textLength="11.00" lengthAdjust="spacingAndGlyphs" fill="#333" stroke="#333" stroke-width="0.1">125</text>
<line x1="490.98" y1="141.10" x2="490.98" y2="143.40" stroke="#231f20" stroke-width="1.0"/>
<text x="490.98" y="153.20" font-size="7.1" text-anchor="middle" textLength="11.00" lengthAdjust="spacingAndGlyphs" fill="#333" stroke="#333" stroke-width="0.1">150</text>
<line x1="511.89" y1="141.10" x2="511.89" y2="143.40" stroke="#231f20" stroke-width="1.0"/>
<text x="511.89" y="153.20" font-size="7.1" text-anchor="middle" textLength="11.00" lengthAdjust="spacingAndGlyphs" fill="#333" stroke="#333" stroke-width="0.1">175</text>
<text x="441.20" y="165.40" font-size="7.5" text-anchor="middle" textLength="48.50" lengthAdjust="spacingAndGlyphs" fill="#2a2a2a">Number of genes</text>
<text transform="translate(205.0,84.2) rotate(-90)" font-size="6.3" text-anchor="middle" fill="#333" textLength="25.5" lengthAdjust="spacingAndGlyphs">Pathways</text>
<rect x="467.80" y="118.40" width="6.00" height="6.30" fill="#8d1329"/>
<rect x="467.80" y="129.60" width="5.80" height="6.40" fill="#c0c0c5"/>
<text x="478.30" y="124.00" font-size="7.3" textLength="34.00" lengthAdjust="spacingAndGlyphs" fill="#2a2a2a">padj &lt; 0.05</text>
<text x="478.30" y="135.40" font-size="7.3" textLength="34.00" lengthAdjust="spacingAndGlyphs" fill="#2a2a2a">padj &gt; 0.05</text>
<text x="53.80" y="200.60" font-size="11.4" font-weight="bold" textLength="6.20" lengthAdjust="spacingAndGlyphs" fill="#231f20" stroke="#231f20" stroke-width="0.3">F</text>
<line x1="83.50" y1="213.30" x2="83.50" y2="309.90" stroke="#231f20" stroke-width="1.2"/>
<line x1="80.30" y1="309.40" x2="83.50" y2="309.40" stroke="#231f20" stroke-width="0.9"/>
<text x="76.60" y="311.70" font-size="6.6" text-anchor="end" textLength="3.40" lengthAdjust="spacingAndGlyphs" fill="#3a3a3a" stroke="#3a3a3a" stroke-width="0.12">0</text>
<line x1="80.30" y1="290.75" x2="83.50" y2="290.75" stroke="#231f20" stroke-width="0.9"/>
<text x="76.60" y="293.05" font-size="6.6" text-anchor="end" textLength="6.90" lengthAdjust="spacingAndGlyphs" fill="#3a3a3a" stroke="#3a3a3a" stroke-width="0.12">20</text>
<line x1="80.30" y1="272.10" x2="83.50" y2="272.10" stroke="#231f20" stroke-width="0.9"/>
<text x="76.60" y="274.40" font-size="6.6" text-anchor="end" textLength="6.90" lengthAdjust="spacingAndGlyphs" fill="#3a3a3a" stroke="#3a3a3a" stroke-width="0.12">40</text>
<line x1="80.30" y1="253.45" x2="83.50" y2="253.45" stroke="#231f20" stroke-width="0.9"/>
<text x="76.60" y="255.75" font-size="6.6" text-anchor="end" textLength="6.90" lengthAdjust="spacingAndGlyphs" fill="#3a3a3a" stroke="#3a3a3a" stroke-width="0.12">60</text>
<line x1="80.30" y1="234.80" x2="83.50" y2="234.80" stroke="#231f20" stroke-width="0.9"/>
<text x="76.60" y="237.10" font-size="6.6" text-anchor="end" textLength="6.90" lengthAdjust="spacingAndGlyphs" fill="#3a3a3a" stroke="#3a3a3a" stroke-width="0.12">80</text>
<line x1="80.30" y1="216.15" x2="83.50" y2="216.15" stroke="#231f20" stroke-width="0.9"/>
<text x="76.60" y="218.45" font-size="6.6" text-anchor="end" textLength="10.00" lengthAdjust="spacingAndGlyphs" fill="#3a3a3a" stroke="#3a3a3a" stroke-width="0.12">100</text>
<line x1="80.30" y1="309.40" x2="222.60" y2="309.40" stroke="#231f20" stroke-width="1.1"/>
<text transform="translate(59.60,260.1) rotate(-90)" font-size="6.3" text-anchor="middle" fill="#3a3a3a" textLength="67.5" lengthAdjust="spacingAndGlyphs">% FOXP3<tspan font-size="4.6" dy="-2.4">+</tspan><tspan dy="2.4">CD4</tspan><tspan font-size="4.6" dy="-2.4">+</tspan><tspan dy="2.4">CD45.1</tspan><tspan font-size="4.6" dy="-2.4">+</tspan></text>
<rect x="87.80" y="262.77" width="6.60" height="46.43" fill="#e6c0bb"/>
<rect x="98.60" y="261.84" width="6.60" height="47.36" fill="#c0c3dc"/>
<line x1="91.10" y1="253.45" x2="91.10" y2="272.10" stroke="#b8737a" stroke-width="0.8"/>
<line x1="89.50" y1="253.45" x2="92.70" y2="253.45" stroke="#b8737a" stroke-width="0.9"/>
<line x1="89.50" y1="272.10" x2="92.70" y2="272.10" stroke="#b8737a" stroke-width="0.9"/>
<line x1="101.90" y1="252.52" x2="101.90" y2="271.17" stroke="#5f6790" stroke-width="0.8"/>
<line x1="100.30" y1="252.52" x2="103.50" y2="252.52" stroke="#5f6790" stroke-width="0.9"/>
<line x1="100.30" y1="271.17" x2="103.50" y2="271.17" stroke="#5f6790" stroke-width="0.9"/>
<rect x="89.00" y="225.73" width="3.60" height="3.60" fill="#8e0f2c"/>
<rect x="89.00" y="227.40" width="3.60" height="3.60" fill="#8e0f2c"/>
<rect x="89.00" y="229.36" width="3.60" height="3.60" fill="#8e0f2c"/>
<rect x="89.00" y="235.98" width="3.60" height="3.60" fill="#8e0f2c"/>
<rect x="89.00" y="243.82" width="3.60" height="3.60" fill="#8e0f2c"/>
<rect x="89.30" y="274.40" width="3.60" height="3.60" fill="#8e0f2c"/>
<rect x="90.50" y="276.08" width="3.60" height="3.60" fill="#8e0f2c"/>
<rect x="88.80" y="280.37" width="3.60" height="3.60" fill="#8e0f2c"/>
<rect x="88.00" y="283.82" width="3.60" height="3.60" fill="#8e0f2c"/>
<rect x="90.80" y="284.10" width="3.60" height="3.60" fill="#8e0f2c"/>
<path d="M100.10,228.94L101.90,232.18L98.30,232.18Z" fill="#161c4e"/>
<path d="M103.70,225.96L105.50,229.20L101.90,229.20Z" fill="#161c4e"/>
<path d="M99.70,235.56L101.50,238.80L97.90,238.80Z" fill="#161c4e"/>
<path d="M103.70,237.80L105.50,241.04L101.90,241.04Z" fill="#161c4e"/>
<path d="M101.90,270.90L103.70,274.14L100.10,274.14Z" fill="#161c4e"/>
<path d="M103.50,280.60L105.30,283.84L101.70,283.84Z" fill="#161c4e"/>
<path d="M100.20,282.28L102.00,285.52L98.40,285.52Z" fill="#161c4e"/>
<path d="M101.20,284.42L103.00,287.66L99.40,287.66Z" fill="#161c4e"/>
<path d="M99.50,287.03L101.30,290.27L97.70,290.27Z" fill="#161c4e"/>
<line x1="87.80" y1="312.60" x2="105.20" y2="312.60" stroke="#231f20" stroke-width="1.3"/>
<text x="96.50" y="321.70" font-size="7.0" text-anchor="middle" textLength="20.60" lengthAdjust="spacingAndGlyphs" fill="#2a2a2a" stroke="#2a2a2a" stroke-width="0.1">CD62L</text>
<rect x="110.40" y="303.34" width="6.60" height="5.86" fill="#e6c0bb"/>
<rect x="121.20" y="304.74" width="6.60" height="4.46" fill="#c0c3dc"/>
<line x1="113.70" y1="302.22" x2="113.70" y2="304.46" stroke="#b8737a" stroke-width="0.8"/>
<line x1="112.10" y1="302.22" x2="115.30" y2="302.22" stroke="#b8737a" stroke-width="0.9"/>
<line x1="112.10" y1="304.46" x2="115.30" y2="304.46" stroke="#b8737a" stroke-width="0.9"/>
<line x1="124.50" y1="303.80" x2="124.50" y2="305.67" stroke="#5f6790" stroke-width="0.8"/>
<line x1="122.90" y1="303.80" x2="126.10" y2="303.80" stroke="#5f6790" stroke-width="0.9"/>
<line x1="122.90" y1="305.67" x2="126.10" y2="305.67" stroke="#5f6790" stroke-width="0.9"/>
<rect x="111.90" y="292.68" width="3.60" height="3.60" fill="#8e0f2c"/>
<rect x="111.90" y="298.27" width="3.60" height="3.60" fill="#8e0f2c"/>
<rect x="114.50" y="299.67" width="3.60" height="3.60" fill="#8e0f2c"/>
<rect x="111.90" y="301.07" width="3.60" height="3.60" fill="#8e0f2c"/>
<rect x="114.50" y="302.00" width="3.60" height="3.60" fill="#8e0f2c"/>
<rect x="109.30" y="302.94" width="3.60" height="3.60" fill="#8e0f2c"/>
<rect x="111.90" y="303.87" width="3.60" height="3.60" fill="#8e0f2c"/>
<rect x="114.50" y="304.80" width="3.60" height="3.60" fill="#8e0f2c"/>
<rect x="109.30" y="305.73" width="3.60" height="3.60" fill="#8e0f2c"/>
<rect x="111.90" y="306.20" width="3.60" height="3.60" fill="#8e0f2c"/>
<path d="M124.50,298.13L126.30,301.37L122.70,301.37Z" fill="#161c4e"/>
<path d="M127.10,300.00L128.90,303.24L125.30,303.24Z" fill="#161c4e"/>
<path d="M124.50,301.39L126.30,304.63L122.70,304.63Z" fill="#161c4e"/>
<path d="M127.10,302.79L128.90,306.03L125.30,306.03Z" fill="#161c4e"/>
<path d="M124.50,303.73L126.30,306.97L122.70,306.97Z" fill="#161c4e"/>
<path d="M121.90,304.66L123.70,307.90L120.10,307.90Z" fill="#161c4e"/>
<path d="M127.10,305.59L128.90,308.83L125.30,308.83Z" fill="#161c4e"/>
<line x1="110.40" y1="312.60" x2="127.80" y2="312.60" stroke="#231f20" stroke-width="1.3"/>
<text x="119.10" y="321.70" font-size="7.0" text-anchor="middle" textLength="11.90" lengthAdjust="spacingAndGlyphs" fill="#2a2a2a" stroke="#2a2a2a" stroke-width="0.1">PD1</text>
<rect x="133.00" y="282.36" width="6.60" height="26.84" fill="#e6c0bb"/>
<rect x="143.80" y="287.02" width="6.60" height="22.18" fill="#c0c3dc"/>
<line x1="136.30" y1="279.56" x2="136.30" y2="285.15" stroke="#b8737a" stroke-width="0.8"/>
<line x1="134.70" y1="279.56" x2="137.90" y2="279.56" stroke="#b8737a" stroke-width="0.9"/>
<line x1="134.70" y1="285.15" x2="137.90" y2="285.15" stroke="#b8737a" stroke-width="0.9"/>
<line x1="147.10" y1="283.29" x2="147.10" y2="290.75" stroke="#5f6790" stroke-width="0.8"/>
<line x1="145.50" y1="283.29" x2="148.70" y2="283.29" stroke="#5f6790" stroke-width="0.9"/>
<line x1="145.50" y1="290.75" x2="148.70" y2="290.75" stroke="#5f6790" stroke-width="0.9"/>
<rect x="134.50" y="265.36" width="3.60" height="3.60" fill="#8e0f2c"/>
<rect x="133.50" y="270.30" width="3.60" height="3.60" fill="#8e0f2c"/>
<rect x="135.70" y="271.70" width="3.60" height="3.60" fill="#8e0f2c"/>
<rect x="133.10" y="273.56" width="3.60" height="3.60" fill="#8e0f2c"/>
<rect x="135.30" y="274.96" width="3.60" height="3.60" fill="#8e0f2c"/>
<rect x="133.90" y="276.83" width="3.60" height="3.60" fill="#8e0f2c"/>
<rect x="135.90" y="278.23" width="3.60" height="3.60" fill="#8e0f2c"/>
<rect x="133.30" y="279.62" width="3.60" height="3.60" fill="#8e0f2c"/>
<rect x="135.10" y="287.08" width="3.60" height="3.60" fill="#8e0f2c"/>
<rect x="133.50" y="288.48" width="3.60" height="3.60" fill="#8e0f2c"/>
<rect x="134.90" y="290.35" width="3.60" height="3.60" fill="#8e0f2c"/>
<rect x="133.70" y="291.75" width="3.60" height="3.60" fill="#8e0f2c"/>
<path d="M147.10,256.54L148.90,259.78L145.30,259.78Z" fill="#161c4e"/>
<path d="M147.40,263.63L149.20,266.87L145.60,266.87Z" fill="#161c4e"/>
<path d="M146.80,266.61L148.60,269.85L145.00,269.85Z" fill="#161c4e"/>
<path d="M147.60,270.16L149.40,273.40L145.80,273.40Z" fill="#161c4e"/>
<path d="M146.10,275.28L147.90,278.52L144.30,278.52Z" fill="#161c4e"/>
<path d="M148.30,277.62L150.10,280.86L146.50,280.86Z" fill="#161c4e"/>
<path d="M145.70,279.95L147.50,283.19L143.90,283.19Z" fill="#161c4e"/>
<path d="M147.90,281.81L149.70,285.05L146.10,285.05Z" fill="#161c4e"/>
<path d="M146.30,284.14L148.10,287.38L144.50,287.38Z" fill="#161c4e"/>
<path d="M148.60,286.01L150.40,289.25L146.80,289.25Z" fill="#161c4e"/>
<path d="M145.60,287.87L147.40,291.11L143.80,291.11Z" fill="#161c4e"/>
<path d="M147.60,289.74L149.40,292.98L145.80,292.98Z" fill="#161c4e"/>
<line x1="133.00" y1="312.60" x2="150.40" y2="312.60" stroke="#231f20" stroke-width="1.3"/>
<text x="141.70" y="321.70" font-size="7.0" text-anchor="middle" textLength="19.90" lengthAdjust="spacingAndGlyphs" fill="#2a2a2a" stroke="#2a2a2a" stroke-width="0.1">KLRG1</text>
<rect x="155.60" y="300.07" width="6.60" height="9.12" fill="#e6c0bb"/>
<rect x="166.40" y="294.95" width="6.60" height="14.25" fill="#c0c3dc"/>
<line x1="158.90" y1="298.68" x2="158.90" y2="301.47" stroke="#b8737a" stroke-width="0.8"/>
<line x1="157.30" y1="298.68" x2="160.50" y2="298.68" stroke="#b8737a" stroke-width="0.9"/>
<line x1="157.30" y1="301.47" x2="160.50" y2="301.47" stroke="#b8737a" stroke-width="0.9"/>
<line x1="169.70" y1="292.15" x2="169.70" y2="297.74" stroke="#5f6790" stroke-width="0.8"/>
<line x1="168.10" y1="292.15" x2="171.30" y2="292.15" stroke="#5f6790" stroke-width="0.9"/>
<line x1="168.10" y1="297.74" x2="171.30" y2="297.74" stroke="#5f6790" stroke-width="0.9"/>
<rect x="156.60" y="289.42" width="3.60" height="3.60" fill="#8e0f2c"/>
<rect x="158.30" y="290.81" width="3.60" height="3.60" fill="#8e0f2c"/>
<rect x="156.10" y="293.61" width="3.60" height="3.60" fill="#8e0f2c"/>
<rect x="157.60" y="296.41" width="3.60" height="3.60" fill="#8e0f2c"/>
<rect x="155.90" y="298.27" width="3.60" height="3.60" fill="#8e0f2c"/>
<rect x="158.10" y="300.14" width="3.60" height="3.60" fill="#8e0f2c"/>
<rect x="156.60" y="302.00" width="3.60" height="3.60" fill="#8e0f2c"/>
<rect x="157.90" y="303.87" width="3.60" height="3.60" fill="#8e0f2c"/>
<rect x="156.80" y="305.27" width="3.60" height="3.60" fill="#8e0f2c"/>
<path d="M169.70,277.62L171.50,280.86L167.90,280.86Z" fill="#161c4e"/>
<path d="M169.90,279.95L171.70,283.19L168.10,283.19Z" fill="#161c4e"/>
<path d="M169.10,285.08L170.90,288.32L167.30,288.32Z" fill="#161c4e"/>
<path d="M170.90,286.94L172.70,290.18L169.10,290.18Z" fill="#161c4e"/>
<path d="M168.40,288.81L170.20,292.05L166.60,292.05Z" fill="#161c4e"/>
<path d="M170.50,290.67L172.30,293.91L168.70,293.91Z" fill="#161c4e"/>
<path d="M168.90,292.07L170.70,295.31L167.10,295.31Z" fill="#161c4e"/>
<line x1="155.60" y1="312.60" x2="173.00" y2="312.60" stroke="#231f20" stroke-width="1.3"/>
<text x="164.30" y="321.70" font-size="7.0" text-anchor="middle" textLength="20.90" lengthAdjust="spacingAndGlyphs" fill="#2a2a2a" stroke="#2a2a2a" stroke-width="0.1">CD103</text>
<rect x="178.20" y="243.19" width="6.60" height="66.01" fill="#e6c0bb"/>
<rect x="189.00" y="242.26" width="6.60" height="66.94" fill="#c0c3dc"/>
<line x1="181.50" y1="240.39" x2="181.50" y2="245.99" stroke="#b8737a" stroke-width="0.8"/>
<line x1="179.90" y1="240.39" x2="183.10" y2="240.39" stroke="#b8737a" stroke-width="0.9"/>
<line x1="179.90" y1="245.99" x2="183.10" y2="245.99" stroke="#b8737a" stroke-width="0.9"/>
<line x1="192.30" y1="239.46" x2="192.30" y2="245.06" stroke="#5f6790" stroke-width="0.8"/>
<line x1="190.70" y1="239.46" x2="193.90" y2="239.46" stroke="#5f6790" stroke-width="0.9"/>
<line x1="190.70" y1="245.06" x2="193.90" y2="245.06" stroke="#5f6790" stroke-width="0.9"/>
<rect x="178.70" y="225.07" width="3.60" height="3.60" fill="#8e0f2c"/>
<rect x="181.00" y="226.47" width="3.60" height="3.60" fill="#8e0f2c"/>
<rect x="178.30" y="228.34" width="3.60" height="3.60" fill="#8e0f2c"/>
<rect x="180.70" y="229.74" width="3.60" height="3.60" fill="#8e0f2c"/>
<rect x="178.90" y="231.60" width="3.60" height="3.60" fill="#8e0f2c"/>
<rect x="181.10" y="233.00" width="3.60" height="3.60" fill="#8e0f2c"/>
<rect x="178.40" y="234.86" width="3.60" height="3.60" fill="#8e0f2c"/>
<rect x="180.30" y="236.26" width="3.60" height="3.60" fill="#8e0f2c"/>
<rect x="179.10" y="238.13" width="3.60" height="3.60" fill="#8e0f2c"/>
<rect x="180.90" y="240.46" width="3.60" height="3.60" fill="#8e0f2c"/>
<rect x="178.50" y="242.32" width="3.60" height="3.60" fill="#8e0f2c"/>
<rect x="180.20" y="244.66" width="3.60" height="3.60" fill="#8e0f2c"/>
<rect x="179.30" y="247.92" width="3.60" height="3.60" fill="#8e0f2c"/>
<rect x="180.30" y="253.51" width="3.60" height="3.60" fill="#8e0f2c"/>
<rect x="178.90" y="256.78" width="3.60" height="3.60" fill="#8e0f2c"/>
<rect x="180.00" y="265.64" width="3.60" height="3.60" fill="#8e0f2c"/>
<path d="M191.10,223.53L192.90,226.77L189.30,226.77Z" fill="#161c4e"/>
<path d="M193.50,224.46L195.30,227.70L191.70,227.70Z" fill="#161c4e"/>
<path d="M192.30,226.33L194.10,229.57L190.50,229.57Z" fill="#161c4e"/>
<path d="M190.80,227.73L192.60,230.97L189.00,230.97Z" fill="#161c4e"/>
<path d="M193.60,229.13L195.40,232.37L191.80,232.37Z" fill="#161c4e"/>
<path d="M191.80,230.52L193.60,233.76L190.00,233.76Z" fill="#161c4e"/>
<path d="M193.50,232.39L195.30,235.63L191.70,235.63Z" fill="#161c4e"/>
<path d="M191.10,233.79L192.90,237.03L189.30,237.03Z" fill="#161c4e"/>
<path d="M192.80,235.65L194.60,238.89L191.00,238.89Z" fill="#161c4e"/>
<path d="M191.50,237.52L193.30,240.76L189.70,240.76Z" fill="#161c4e"/>
<path d="M192.90,244.98L194.70,248.22L191.10,248.22Z" fill="#161c4e"/>
<path d="M191.70,250.11L193.50,253.35L189.90,253.35Z" fill="#161c4e"/>
<path d="M192.60,255.24L194.40,258.48L190.80,258.48Z" fill="#161c4e"/>
<path d="M191.80,259.90L193.60,263.14L190.00,263.14Z" fill="#161c4e"/>
<line x1="178.20" y1="312.60" x2="195.60" y2="312.60" stroke="#231f20" stroke-width="1.3"/>
<text x="186.90" y="321.70" font-size="7.0" text-anchor="middle" textLength="15.40" lengthAdjust="spacingAndGlyphs" fill="#2a2a2a" stroke="#2a2a2a" stroke-width="0.1">ICOS</text>
<rect x="200.80" y="286.09" width="6.60" height="23.11" fill="#e6c0bb"/>
<rect x="211.60" y="287.02" width="6.60" height="22.18" fill="#c0c3dc"/>
<line x1="204.10" y1="284.69" x2="204.10" y2="287.49" stroke="#b8737a" stroke-width="0.8"/>
<line x1="202.50" y1="284.69" x2="205.70" y2="284.69" stroke="#b8737a" stroke-width="0.9"/>
<line x1="202.50" y1="287.49" x2="205.70" y2="287.49" stroke="#b8737a" stroke-width="0.9"/>
<line x1="214.90" y1="285.62" x2="214.90" y2="288.42" stroke="#5f6790" stroke-width="0.8"/>
<line x1="213.30" y1="285.62" x2="216.50" y2="285.62" stroke="#5f6790" stroke-width="0.9"/>
<line x1="213.30" y1="288.42" x2="216.50" y2="288.42" stroke="#5f6790" stroke-width="0.9"/>
<rect x="202.30" y="274.96" width="3.60" height="3.60" fill="#8e0f2c"/>
<rect x="201.00" y="276.83" width="3.60" height="3.60" fill="#8e0f2c"/>
<rect x="203.60" y="278.23" width="3.60" height="3.60" fill="#8e0f2c"/>
<rect x="200.80" y="279.62" width="3.60" height="3.60" fill="#8e0f2c"/>
<rect x="203.30" y="280.56" width="3.60" height="3.60" fill="#8e0f2c"/>
<rect x="201.80" y="281.96" width="3.60" height="3.60" fill="#8e0f2c"/>
<rect x="203.70" y="282.89" width="3.60" height="3.60" fill="#8e0f2c"/>
<rect x="201.00" y="284.29" width="3.60" height="3.60" fill="#8e0f2c"/>
<path d="M214.90,273.42L216.70,276.66L213.10,276.66Z" fill="#161c4e"/>
<path d="M213.60,274.82L215.40,278.06L211.80,278.06Z" fill="#161c4e"/>
<path d="M215.90,276.68L217.70,279.92L214.10,279.92Z" fill="#161c4e"/>
<path d="M213.40,278.08L215.20,281.32L211.60,281.32Z" fill="#161c4e"/>
<path d="M216.30,279.48L218.10,282.72L214.50,282.72Z" fill="#161c4e"/>
<path d="M214.60,280.88L216.40,284.12L212.80,284.12Z" fill="#161c4e"/>
<path d="M213.30,282.28L215.10,285.52L211.50,285.52Z" fill="#161c4e"/>
<path d="M216.40,283.21L218.20,286.45L214.60,286.45Z" fill="#161c4e"/>
<line x1="200.80" y1="312.60" x2="218.20" y2="312.60" stroke="#231f20" stroke-width="1.3"/>
<text x="209.50" y="321.70" font-size="7.0" text-anchor="middle" textLength="14.80" lengthAdjust="spacingAndGlyphs" fill="#2a2a2a" stroke="#2a2a2a" stroke-width="0.1">Lag3</text>
<text x="153.50" y="333.00" font-size="6.5" text-anchor="middle" fill="#333">Spleen</text>
<line x1="271.70" y1="213.30" x2="271.70" y2="309.90" stroke="#231f20" stroke-width="1.2"/>
<line x1="268.50" y1="309.40" x2="271.70" y2="309.40" stroke="#231f20" stroke-width="0.9"/>
<text x="264.80" y="311.70" font-size="6.6" text-anchor="end" textLength="3.40" lengthAdjust="spacingAndGlyphs" fill="#3a3a3a" stroke="#3a3a3a" stroke-width="0.12">0</text>
<line x1="268.50" y1="290.75" x2="271.70" y2="290.75" stroke="#231f20" stroke-width="0.9"/>
<text x="264.80" y="293.05" font-size="6.6" text-anchor="end" textLength="6.90" lengthAdjust="spacingAndGlyphs" fill="#3a3a3a" stroke="#3a3a3a" stroke-width="0.12">20</text>
<line x1="268.50" y1="272.10" x2="271.70" y2="272.10" stroke="#231f20" stroke-width="0.9"/>
<text x="264.80" y="274.40" font-size="6.6" text-anchor="end" textLength="6.90" lengthAdjust="spacingAndGlyphs" fill="#3a3a3a" stroke="#3a3a3a" stroke-width="0.12">40</text>
<line x1="268.50" y1="253.45" x2="271.70" y2="253.45" stroke="#231f20" stroke-width="0.9"/>
<text x="264.80" y="255.75" font-size="6.6" text-anchor="end" textLength="6.90" lengthAdjust="spacingAndGlyphs" fill="#3a3a3a" stroke="#3a3a3a" stroke-width="0.12">60</text>
<line x1="268.50" y1="234.80" x2="271.70" y2="234.80" stroke="#231f20" stroke-width="0.9"/>
<text x="264.80" y="237.10" font-size="6.6" text-anchor="end" textLength="6.90" lengthAdjust="spacingAndGlyphs" fill="#3a3a3a" stroke="#3a3a3a" stroke-width="0.12">80</text>
<line x1="268.50" y1="216.15" x2="271.70" y2="216.15" stroke="#231f20" stroke-width="0.9"/>
<text x="264.80" y="218.45" font-size="6.6" text-anchor="end" textLength="10.00" lengthAdjust="spacingAndGlyphs" fill="#3a3a3a" stroke="#3a3a3a" stroke-width="0.12">100</text>
<line x1="268.50" y1="309.40" x2="410.80" y2="309.40" stroke="#231f20" stroke-width="1.1"/>
<text transform="translate(247.30,260.1) rotate(-90)" font-size="6.3" text-anchor="middle" fill="#3a3a3a" textLength="67.5" lengthAdjust="spacingAndGlyphs">% FOXP3<tspan font-size="4.6" dy="-2.4">+</tspan><tspan dy="2.4">CD4</tspan><tspan font-size="4.6" dy="-2.4">+</tspan><tspan dy="2.4">CD45.1</tspan><tspan font-size="4.6" dy="-2.4">+</tspan></text>
<rect x="276.20" y="298.21" width="6.60" height="10.99" fill="#e6c0bb"/>
<rect x="287.00" y="292.61" width="6.60" height="16.59" fill="#c0c3dc"/>
<line x1="279.50" y1="295.88" x2="279.50" y2="300.54" stroke="#b8737a" stroke-width="0.8"/>
<line x1="277.90" y1="295.88" x2="281.10" y2="295.88" stroke="#b8737a" stroke-width="0.9"/>
<line x1="277.90" y1="300.54" x2="281.10" y2="300.54" stroke="#b8737a" stroke-width="0.9"/>
<line x1="290.30" y1="290.28" x2="290.30" y2="294.95" stroke="#5f6790" stroke-width="0.8"/>
<line x1="288.70" y1="290.28" x2="291.90" y2="290.28" stroke="#5f6790" stroke-width="0.9"/>
<line x1="288.70" y1="294.95" x2="291.90" y2="294.95" stroke="#5f6790" stroke-width="0.9"/>
<rect x="275.10" y="291.93" width="3.60" height="3.60" fill="#8e0f2c"/>
<rect x="279.70" y="291.93" width="3.60" height="3.60" fill="#8e0f2c"/>
<rect x="277.20" y="296.50" width="3.60" height="3.60" fill="#8e0f2c"/>
<rect x="279.30" y="299.77" width="3.60" height="3.60" fill="#8e0f2c"/>
<rect x="275.50" y="302.38" width="3.60" height="3.60" fill="#8e0f2c"/>
<path d="M287.70,286.01L289.50,289.25L285.90,289.25Z" fill="#161c4e"/>
<path d="M289.80,288.06L291.60,291.30L288.00,291.30Z" fill="#161c4e"/>
<path d="M287.70,291.79L289.50,295.03L285.90,295.03Z" fill="#161c4e"/>
<path d="M291.40,293.10L293.20,296.34L289.60,296.34Z" fill="#161c4e"/>
<path d="M289.40,298.04L291.20,301.28L287.60,301.28Z" fill="#161c4e"/>
<line x1="276.20" y1="312.60" x2="293.60" y2="312.60" stroke="#231f20" stroke-width="1.3"/>
<text x="284.90" y="321.70" font-size="7.0" text-anchor="middle" textLength="20.60" lengthAdjust="spacingAndGlyphs" fill="#2a2a2a" stroke="#2a2a2a" stroke-width="0.1">CD62L</text>
<rect x="298.80" y="300.07" width="6.60" height="9.12" fill="#e6c0bb"/>
<rect x="309.60" y="303.80" width="6.60" height="5.40" fill="#c0c3dc"/>
<line x1="302.10" y1="296.34" x2="302.10" y2="303.80" stroke="#b8737a" stroke-width="0.8"/>
<line x1="300.50" y1="296.34" x2="303.70" y2="296.34" stroke="#b8737a" stroke-width="0.9"/>
<line x1="300.50" y1="303.80" x2="303.70" y2="303.80" stroke="#b8737a" stroke-width="0.9"/>
<line x1="312.90" y1="302.87" x2="312.90" y2="304.74" stroke="#5f6790" stroke-width="0.8"/>
<line x1="311.30" y1="302.87" x2="314.50" y2="302.87" stroke="#5f6790" stroke-width="0.9"/>
<line x1="311.30" y1="304.74" x2="314.50" y2="304.74" stroke="#5f6790" stroke-width="0.9"/>
<rect x="299.80" y="290.35" width="3.60" height="3.60" fill="#8e0f2c"/>
<rect x="298.30" y="300.14" width="3.60" height="3.60" fill="#8e0f2c"/>
<rect x="301.80" y="300.14" width="3.60" height="3.60" fill="#8e0f2c"/>
<rect x="299.30" y="302.00" width="3.60" height="3.60" fill="#8e0f2c"/>
<rect x="301.50" y="302.47" width="3.60" height="3.60" fill="#8e0f2c"/>
<rect x="298.10" y="303.87" width="3.60" height="3.60" fill="#8e0f2c"/>
<rect x="302.10" y="303.87" width="3.60" height="3.60" fill="#8e0f2c"/>
<rect x="300.30" y="304.80" width="3.60" height="3.60" fill="#8e0f2c"/>
<path d="M312.90,296.27L314.70,299.51L311.10,299.51Z" fill="#161c4e"/>
<path d="M312.10,298.60L313.90,301.84L310.30,301.84Z" fill="#161c4e"/>
<path d="M313.70,300.00L315.50,303.24L311.90,303.24Z" fill="#161c4e"/>
<path d="M311.40,301.86L313.20,305.10L309.60,305.10Z" fill="#161c4e"/>
<path d="M314.20,301.86L316.00,305.10L312.40,305.10Z" fill="#161c4e"/>
<path d="M310.90,303.73L312.70,306.97L309.10,306.97Z" fill="#161c4e"/>
<path d="M313.50,303.73L315.30,306.97L311.70,306.97Z" fill="#161c4e"/>
<path d="M315.10,304.66L316.90,307.90L313.30,307.90Z" fill="#161c4e"/>
<line x1="298.80" y1="312.60" x2="316.20" y2="312.60" stroke="#231f20" stroke-width="1.3"/>
<text x="307.50" y="321.70" font-size="7.0" text-anchor="middle" textLength="11.90" lengthAdjust="spacingAndGlyphs" fill="#2a2a2a" stroke="#2a2a2a" stroke-width="0.1">PD1</text>
<rect x="321.40" y="265.57" width="6.60" height="43.63" fill="#e6c0bb"/>
<rect x="332.20" y="280.49" width="6.60" height="28.71" fill="#c0c3dc"/>
<line x1="324.70" y1="263.71" x2="324.70" y2="267.44" stroke="#b8737a" stroke-width="0.8"/>
<line x1="323.10" y1="263.71" x2="326.30" y2="263.71" stroke="#b8737a" stroke-width="0.9"/>
<line x1="323.10" y1="267.44" x2="326.30" y2="267.44" stroke="#b8737a" stroke-width="0.9"/>
<line x1="335.50" y1="278.16" x2="335.50" y2="282.82" stroke="#5f6790" stroke-width="0.8"/>
<line x1="333.90" y1="278.16" x2="337.10" y2="278.16" stroke="#5f6790" stroke-width="0.9"/>
<line x1="333.90" y1="282.82" x2="337.10" y2="282.82" stroke="#5f6790" stroke-width="0.9"/>
<rect x="322.90" y="249.78" width="3.60" height="3.60" fill="#8e0f2c"/>
<rect x="322.90" y="253.51" width="3.60" height="3.60" fill="#8e0f2c"/>
<rect x="322.90" y="257.24" width="3.60" height="3.60" fill="#8e0f2c"/>
<rect x="322.90" y="260.97" width="3.60" height="3.60" fill="#8e0f2c"/>
<rect x="325.50" y="262.84" width="3.60" height="3.60" fill="#8e0f2c"/>
<rect x="322.90" y="263.77" width="3.60" height="3.60" fill="#8e0f2c"/>
<rect x="320.30" y="264.70" width="3.60" height="3.60" fill="#8e0f2c"/>
<rect x="325.50" y="265.64" width="3.60" height="3.60" fill="#8e0f2c"/>
<rect x="322.90" y="266.57" width="3.60" height="3.60" fill="#8e0f2c"/>
<rect x="320.30" y="267.50" width="3.60" height="3.60" fill="#8e0f2c"/>
<rect x="325.50" y="268.43" width="3.60" height="3.60" fill="#8e0f2c"/>
<rect x="322.90" y="269.37" width="3.60" height="3.60" fill="#8e0f2c"/>
<rect x="320.30" y="270.30" width="3.60" height="3.60" fill="#8e0f2c"/>
<rect x="325.50" y="271.23" width="3.60" height="3.60" fill="#8e0f2c"/>
<rect x="322.90" y="272.16" width="3.60" height="3.60" fill="#8e0f2c"/>
<rect x="325.50" y="274.03" width="3.60" height="3.60" fill="#8e0f2c"/>
<path d="M335.50,262.70L337.30,265.94L333.70,265.94Z" fill="#161c4e"/>
<path d="M335.50,266.43L337.30,269.67L333.70,269.67Z" fill="#161c4e"/>
<path d="M335.50,270.16L337.30,273.40L333.70,273.40Z" fill="#161c4e"/>
<path d="M335.50,272.95L337.30,276.19L333.70,276.19Z" fill="#161c4e"/>
<path d="M335.50,275.75L337.30,278.99L333.70,278.99Z" fill="#161c4e"/>
<path d="M335.50,278.55L337.30,281.79L333.70,281.79Z" fill="#161c4e"/>
<path d="M338.10,280.41L339.90,283.65L336.30,283.65Z" fill="#161c4e"/>
<path d="M335.50,282.28L337.30,285.52L333.70,285.52Z" fill="#161c4e"/>
<path d="M338.10,284.14L339.90,287.38L336.30,287.38Z" fill="#161c4e"/>
<path d="M335.50,286.94L337.30,290.18L333.70,290.18Z" fill="#161c4e"/>
<path d="M335.50,290.67L337.30,293.91L333.70,293.91Z" fill="#161c4e"/>
<line x1="321.40" y1="312.60" x2="338.80" y2="312.60" stroke="#231f20" stroke-width="1.3"/>
<text x="330.10" y="321.70" font-size="7.0" text-anchor="middle" textLength="19.90" lengthAdjust="spacingAndGlyphs" fill="#2a2a2a" stroke="#2a2a2a" stroke-width="0.1">KLRG1</text>
<rect x="344.00" y="301.94" width="6.60" height="7.26" fill="#e6c0bb"/>
<rect x="354.80" y="288.88" width="6.60" height="20.31" fill="#c0c3dc"/>
<line x1="347.30" y1="301.01" x2="347.30" y2="302.87" stroke="#b8737a" stroke-width="0.8"/>
<line x1="345.70" y1="301.01" x2="348.90" y2="301.01" stroke="#b8737a" stroke-width="0.9"/>
<line x1="345.70" y1="302.87" x2="348.90" y2="302.87" stroke="#b8737a" stroke-width="0.9"/>
<line x1="358.10" y1="284.22" x2="358.10" y2="293.55" stroke="#5f6790" stroke-width="0.8"/>
<line x1="356.50" y1="284.22" x2="359.70" y2="284.22" stroke="#5f6790" stroke-width="0.9"/>
<line x1="356.50" y1="293.55" x2="359.70" y2="293.55" stroke="#5f6790" stroke-width="0.9"/>
<rect x="346.00" y="295.01" width="3.60" height="3.60" fill="#8e0f2c"/>
<rect x="346.90" y="296.88" width="3.60" height="3.60" fill="#8e0f2c"/>
<rect x="344.90" y="298.74" width="3.60" height="3.60" fill="#8e0f2c"/>
<rect x="346.40" y="300.61" width="3.60" height="3.60" fill="#8e0f2c"/>
<rect x="344.30" y="302.47" width="3.60" height="3.60" fill="#8e0f2c"/>
<rect x="346.10" y="303.87" width="3.60" height="3.60" fill="#8e0f2c"/>
<rect x="344.90" y="305.27" width="3.60" height="3.60" fill="#8e0f2c"/>
<path d="M358.10,274.26L359.90,277.50L356.30,277.50Z" fill="#161c4e"/>
<path d="M358.10,278.55L359.90,281.79L356.30,281.79Z" fill="#161c4e"/>
<path d="M357.90,282.28L359.70,285.52L356.10,285.52Z" fill="#161c4e"/>
<path d="M356.90,286.01L358.70,289.25L355.10,289.25Z" fill="#161c4e"/>
<path d="M359.70,286.94L361.50,290.18L357.90,290.18Z" fill="#161c4e"/>
<path d="M358.10,304.66L359.90,307.90L356.30,307.90Z" fill="#161c4e"/>
<line x1="344.00" y1="312.60" x2="361.40" y2="312.60" stroke="#231f20" stroke-width="1.3"/>
<text x="352.70" y="321.70" font-size="7.0" text-anchor="middle" textLength="20.90" lengthAdjust="spacingAndGlyphs" fill="#2a2a2a" stroke="#2a2a2a" stroke-width="0.1">CD103</text>
<rect x="366.60" y="234.80" width="6.60" height="74.40" fill="#e6c0bb"/>
<rect x="377.40" y="240.39" width="6.60" height="68.81" fill="#c0c3dc"/>
<line x1="369.90" y1="233.87" x2="369.90" y2="235.73" stroke="#b8737a" stroke-width="0.8"/>
<line x1="368.30" y1="233.87" x2="371.50" y2="233.87" stroke="#b8737a" stroke-width="0.9"/>
<line x1="368.30" y1="235.73" x2="371.50" y2="235.73" stroke="#b8737a" stroke-width="0.9"/>
<line x1="380.70" y1="238.53" x2="380.70" y2="242.26" stroke="#5f6790" stroke-width="0.8"/>
<line x1="379.10" y1="238.53" x2="382.30" y2="238.53" stroke="#5f6790" stroke-width="0.9"/>
<line x1="379.10" y1="242.26" x2="382.30" y2="242.26" stroke="#5f6790" stroke-width="0.9"/>
<rect x="366.60" y="227.87" width="3.60" height="3.60" fill="#8e0f2c"/>
<rect x="369.60" y="227.87" width="3.60" height="3.60" fill="#8e0f2c"/>
<rect x="366.60" y="229.74" width="3.60" height="3.60" fill="#8e0f2c"/>
<rect x="369.60" y="229.74" width="3.60" height="3.60" fill="#8e0f2c"/>
<rect x="366.60" y="231.60" width="3.60" height="3.60" fill="#8e0f2c"/>
<rect x="369.60" y="231.60" width="3.60" height="3.60" fill="#8e0f2c"/>
<rect x="366.60" y="233.47" width="3.60" height="3.60" fill="#8e0f2c"/>
<rect x="369.60" y="233.47" width="3.60" height="3.60" fill="#8e0f2c"/>
<rect x="366.60" y="235.33" width="3.60" height="3.60" fill="#8e0f2c"/>
<rect x="369.60" y="235.33" width="3.60" height="3.60" fill="#8e0f2c"/>
<rect x="366.60" y="237.20" width="3.60" height="3.60" fill="#8e0f2c"/>
<rect x="369.60" y="237.20" width="3.60" height="3.60" fill="#8e0f2c"/>
<rect x="368.10" y="228.80" width="3.60" height="3.60" fill="#8e0f2c"/>
<rect x="368.10" y="232.53" width="3.60" height="3.60" fill="#8e0f2c"/>
<rect x="368.10" y="236.26" width="3.60" height="3.60" fill="#8e0f2c"/>
<path d="M380.70,221.67L382.50,224.91L378.90,224.91Z" fill="#161c4e"/>
<path d="M379.50,224.00L381.30,227.24L377.70,227.24Z" fill="#161c4e"/>
<path d="M382.20,224.93L384.00,228.17L380.40,228.17Z" fill="#161c4e"/>
<path d="M380.70,226.79L382.50,230.03L378.90,230.03Z" fill="#161c4e"/>
<path d="M379.20,228.66L381.00,231.90L377.40,231.90Z" fill="#161c4e"/>
<path d="M381.90,229.59L383.70,232.83L380.10,232.83Z" fill="#161c4e"/>
<path d="M380.70,231.46L382.50,234.70L378.90,234.70Z" fill="#161c4e"/>
<path d="M379.70,233.79L381.50,237.03L377.90,237.03Z" fill="#161c4e"/>
<path d="M381.20,235.65L383.00,238.89L379.40,238.89Z" fill="#161c4e"/>
<path d="M380.70,237.98L382.50,241.22L378.90,241.22Z" fill="#161c4e"/>
<path d="M380.70,248.24L382.50,251.48L378.90,251.48Z" fill="#161c4e"/>
<line x1="366.60" y1="312.60" x2="384.00" y2="312.60" stroke="#231f20" stroke-width="1.3"/>
<text x="375.30" y="321.70" font-size="7.0" text-anchor="middle" textLength="15.40" lengthAdjust="spacingAndGlyphs" fill="#2a2a2a" stroke="#2a2a2a" stroke-width="0.1">ICOS</text>
<rect x="389.20" y="291.68" width="6.60" height="17.52" fill="#e6c0bb"/>
<rect x="400.00" y="288.88" width="6.60" height="20.31" fill="#c0c3dc"/>
<line x1="392.50" y1="288.88" x2="392.50" y2="294.48" stroke="#b8737a" stroke-width="0.8"/>
<line x1="390.90" y1="288.88" x2="394.10" y2="288.88" stroke="#b8737a" stroke-width="0.9"/>
<line x1="390.90" y1="294.48" x2="394.10" y2="294.48" stroke="#b8737a" stroke-width="0.9"/>
<line x1="403.30" y1="287.02" x2="403.30" y2="290.75" stroke="#5f6790" stroke-width="0.8"/>
<line x1="401.70" y1="287.02" x2="404.90" y2="287.02" stroke="#5f6790" stroke-width="0.9"/>
<line x1="401.70" y1="290.75" x2="404.90" y2="290.75" stroke="#5f6790" stroke-width="0.9"/>
<rect x="390.70" y="278.69" width="3.60" height="3.60" fill="#8e0f2c"/>
<rect x="390.70" y="282.42" width="3.60" height="3.60" fill="#8e0f2c"/>
<rect x="390.70" y="288.95" width="3.60" height="3.60" fill="#8e0f2c"/>
<rect x="390.70" y="293.61" width="3.60" height="3.60" fill="#8e0f2c"/>
<rect x="390.70" y="298.27" width="3.60" height="3.60" fill="#8e0f2c"/>
<rect x="393.30" y="299.67" width="3.60" height="3.60" fill="#8e0f2c"/>
<path d="M403.30,283.21L405.10,286.45L401.50,286.45Z" fill="#161c4e"/>
<path d="M405.90,285.08L407.70,288.32L404.10,288.32Z" fill="#161c4e"/>
<path d="M403.30,286.94L405.10,290.18L401.50,290.18Z" fill="#161c4e"/>
<path d="M405.90,288.81L407.70,292.05L404.10,292.05Z" fill="#161c4e"/>
<path d="M403.30,290.67L405.10,293.91L401.50,293.91Z" fill="#161c4e"/>
<path d="M403.30,293.47L405.10,296.71L401.50,296.71Z" fill="#161c4e"/>
<path d="M405.90,295.33L407.70,298.57L404.10,298.57Z" fill="#161c4e"/>
<path d="M403.30,297.20L405.10,300.44L401.50,300.44Z" fill="#161c4e"/>
<line x1="389.20" y1="312.60" x2="406.60" y2="312.60" stroke="#231f20" stroke-width="1.3"/>
<text x="397.90" y="321.70" font-size="7.0" text-anchor="middle" textLength="14.80" lengthAdjust="spacingAndGlyphs" fill="#2a2a2a" stroke="#2a2a2a" stroke-width="0.1">Lag3</text>
<text x="339.80" y="333.00" font-size="6.5" text-anchor="middle" fill="#333">mLN</text>
<line x1="158.20" y1="215.40" x2="170.30" y2="215.40" stroke="#231f20" stroke-width="0.9"/>
<circle cx="161.6" cy="211.8" r="1.1" fill="#231f20"/>
<circle cx="164.6" cy="211.8" r="1.1" fill="#231f20"/>
<circle cx="167.5" cy="211.8" r="1.1" fill="#231f20"/>
<line x1="323.90" y1="212.80" x2="336.60" y2="212.80" stroke="#231f20" stroke-width="0.9"/>
<circle cx="328.7" cy="208.9" r="1.1" fill="#231f20"/>
<circle cx="332.5" cy="208.9" r="1.1" fill="#231f20"/>
<line x1="349.00" y1="212.80" x2="361.10" y2="212.80" stroke="#231f20" stroke-width="0.9"/>
<circle cx="355" cy="208.9" r="1.1" fill="#231f20"/>
<rect x="405.50" y="214.20" width="3.40" height="3.40" fill="#8e0f2c"/>
<path d="M407.00,224.56L408.70,227.62L405.30,227.62Z" fill="#161c4e"/>
<text x="411.90" y="218.10" font-size="6.6" textLength="56.10" lengthAdjust="spacingAndGlyphs" fill="#3a3a3a">oIL2Rβ Treg + PBS</text>
<text x="411.90" y="228.70" font-size="6.6" textLength="57.00" lengthAdjust="spacingAndGlyphs" fill="#3a3a3a">oIL2Rβ Treg + oIL2</text>
</svg>
</body></html>
